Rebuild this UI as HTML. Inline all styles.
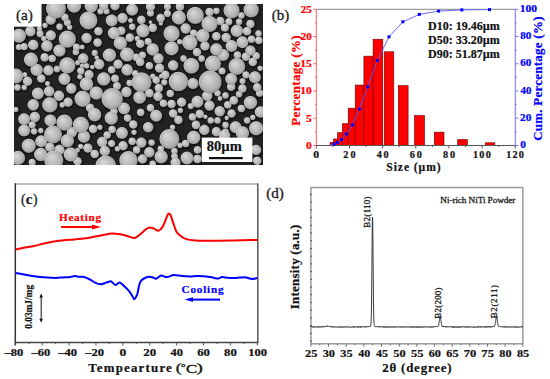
<!DOCTYPE html>
<html><head><meta charset="utf-8"><title>Figure</title>
<style>html,body{margin:0;padding:0;background:#fff;width:550px;height:379px;overflow:hidden}svg{display:block}text{font-family:"Liberation Serif",serif}</style>
</head><body><svg width="550" height="379" viewBox="0 0 550 379"><rect width="550" height="379" fill="#fff"/><defs><radialGradient id="sph" cx="0.5" cy="0.5" r="0.5" fx="0.34" fy="0.3"><stop offset="0" stop-color="#d8d8d8"/><stop offset="0.4" stop-color="#c6c6c6"/><stop offset="0.75" stop-color="#b3b3b3"/><stop offset="0.92" stop-color="#a0a0a0"/><stop offset="1" stop-color="#747474"/></radialGradient><linearGradient id="rim" x1="0" y1="0" x2="1" y2="1"><stop offset="0" stop-color="#efefef" stop-opacity="0.9"/><stop offset="0.5" stop-color="#dcdcdc" stop-opacity="0.25"/><stop offset="1" stop-color="#ffffff" stop-opacity="0"/></linearGradient><clipPath id="semclip"><rect x="14" y="4" width="249" height="161"/></clipPath></defs><g clip-path="url(#semclip)"><rect x="14" y="4" width="249" height="161" fill="#222222"/><circle cx="150.9" cy="22.9" r="3.0" fill="#0e0e0e" opacity="0.7"/><circle cx="205.8" cy="117.4" r="3.4" fill="#0e0e0e" opacity="0.7"/><circle cx="227.1" cy="118.6" r="3.4" fill="#0e0e0e" opacity="0.7"/><circle cx="161.2" cy="24.1" r="3.4" fill="#0e0e0e" opacity="0.7"/><circle cx="82.6" cy="66.5" r="3.5" fill="#0e0e0e" opacity="0.7"/><circle cx="92.7" cy="67.8" r="3.5" fill="#0e0e0e" opacity="0.7"/><circle cx="97.1" cy="58.3" r="3.5" fill="#0e0e0e" opacity="0.7"/><circle cx="220.4" cy="99.1" r="3.6" fill="#0e0e0e" opacity="0.7"/><circle cx="82.6" cy="47.8" r="3.6" fill="#0e0e0e" opacity="0.7"/><circle cx="130.9" cy="21.1" r="3.6" fill="#0e0e0e" opacity="0.7"/><circle cx="161.7" cy="76.9" r="3.6" fill="#0e0e0e" opacity="0.7"/><circle cx="77.8" cy="151.0" r="3.6" fill="#0e0e0e" opacity="0.7"/><circle cx="25.2" cy="75.4" r="3.7" fill="#0e0e0e" opacity="0.7"/><circle cx="47.9" cy="84.2" r="3.7" fill="#0e0e0e" opacity="0.7"/><circle cx="78.1" cy="63.4" r="3.7" fill="#0e0e0e" opacity="0.7"/><circle cx="70.1" cy="27.9" r="3.9" fill="#0e0e0e" opacity="0.7"/><circle cx="80.3" cy="77.4" r="3.9" fill="#0e0e0e" opacity="0.7"/><circle cx="24.6" cy="88.1" r="3.9" fill="#0e0e0e" opacity="0.7"/><circle cx="62.6" cy="105.6" r="3.9" fill="#0e0e0e" opacity="0.7"/><circle cx="16.2" cy="110.2" r="3.9" fill="#0e0e0e" opacity="0.7"/><circle cx="41.2" cy="131.3" r="3.9" fill="#0e0e0e" opacity="0.7"/><circle cx="100.3" cy="127.9" r="3.9" fill="#0e0e0e" opacity="0.7"/><circle cx="134.4" cy="132.9" r="3.9" fill="#0e0e0e" opacity="0.7"/><circle cx="117.8" cy="149.5" r="3.9" fill="#0e0e0e" opacity="0.7"/><circle cx="172.9" cy="127.9" r="3.9" fill="#0e0e0e" opacity="0.7"/><circle cx="180.8" cy="111.0" r="3.9" fill="#0e0e0e" opacity="0.7"/><circle cx="253.2" cy="118.0" r="3.9" fill="#0e0e0e" opacity="0.7"/><circle cx="180.4" cy="146.0" r="3.9" fill="#0e0e0e" opacity="0.7"/><circle cx="45.4" cy="26.0" r="3.9" fill="#0e0e0e" opacity="0.7"/><circle cx="39.9" cy="29.6" r="3.9" fill="#0e0e0e" opacity="0.7"/><circle cx="44.2" cy="39.3" r="3.9" fill="#0e0e0e" opacity="0.7"/><circle cx="137.6" cy="39.3" r="3.9" fill="#0e0e0e" opacity="0.7"/><circle cx="180.1" cy="42.4" r="3.9" fill="#0e0e0e" opacity="0.7"/><circle cx="260.5" cy="69.0" r="3.9" fill="#0e0e0e" opacity="0.7"/><circle cx="153.2" cy="76.9" r="3.9" fill="#0e0e0e" opacity="0.7"/><circle cx="81.1" cy="147.2" r="3.9" fill="#0e0e0e" opacity="0.7"/><circle cx="87.0" cy="66.5" r="4.0" fill="#0e0e0e" opacity="0.7"/><circle cx="95.1" cy="53.6" r="4.2" fill="#0e0e0e" opacity="0.7"/><circle cx="191.1" cy="106.8" r="4.2" fill="#0e0e0e" opacity="0.7"/><circle cx="19.3" cy="47.8" r="4.2" fill="#0e0e0e" opacity="0.7"/><circle cx="100.8" cy="12.0" r="4.2" fill="#0e0e0e" opacity="0.7"/><circle cx="106.9" cy="12.0" r="4.2" fill="#0e0e0e" opacity="0.7"/><circle cx="242.9" cy="81.8" r="4.2" fill="#0e0e0e" opacity="0.7"/><circle cx="164.7" cy="83.0" r="4.2" fill="#0e0e0e" opacity="0.7"/><circle cx="59.9" cy="27.4" r="4.5" fill="#0e0e0e" opacity="0.7"/><circle cx="132.6" cy="27.4" r="4.5" fill="#0e0e0e" opacity="0.7"/><circle cx="216.8" cy="11.5" r="4.5" fill="#0e0e0e" opacity="0.7"/><circle cx="241.8" cy="16.1" r="4.5" fill="#0e0e0e" opacity="0.7"/><circle cx="239.5" cy="22.4" r="4.5" fill="#0e0e0e" opacity="0.7"/><circle cx="258.9" cy="34.2" r="4.5" fill="#0e0e0e" opacity="0.7"/><circle cx="183.9" cy="59.2" r="4.5" fill="#0e0e0e" opacity="0.7"/><circle cx="202.0" cy="59.2" r="4.5" fill="#0e0e0e" opacity="0.7"/><circle cx="17.8" cy="88.1" r="4.5" fill="#0e0e0e" opacity="0.7"/><circle cx="34.4" cy="132.0" r="4.5" fill="#0e0e0e" opacity="0.7"/><circle cx="217.9" cy="93.8" r="4.5" fill="#0e0e0e" opacity="0.7"/><circle cx="225.9" cy="96.1" r="4.5" fill="#0e0e0e" opacity="0.7"/><circle cx="239.5" cy="94.9" r="4.5" fill="#0e0e0e" opacity="0.7"/><circle cx="211.1" cy="121.1" r="4.5" fill="#0e0e0e" opacity="0.7"/><circle cx="217.9" cy="121.1" r="4.5" fill="#0e0e0e" opacity="0.7"/><circle cx="247.5" cy="121.1" r="4.5" fill="#0e0e0e" opacity="0.7"/><circle cx="225.9" cy="125.6" r="4.5" fill="#0e0e0e" opacity="0.7"/><circle cx="225.9" cy="132.4" r="4.5" fill="#0e0e0e" opacity="0.7"/><circle cx="152.0" cy="143.3" r="4.5" fill="#0e0e0e" opacity="0.7"/><circle cx="161.1" cy="149.5" r="4.5" fill="#0e0e0e" opacity="0.7"/><circle cx="174.8" cy="151.7" r="4.5" fill="#0e0e0e" opacity="0.7"/><circle cx="130.0" cy="83.6" r="4.5" fill="#0e0e0e" opacity="0.7"/><circle cx="135.7" cy="74.1" r="4.5" fill="#0e0e0e" opacity="0.7"/><circle cx="57.4" cy="69.7" r="4.5" fill="#0e0e0e" opacity="0.7"/><circle cx="76.2" cy="52.6" r="4.5" fill="#0e0e0e" opacity="0.7"/><circle cx="174.9" cy="156.9" r="4.6" fill="#0e0e0e" opacity="0.7"/><circle cx="153.1" cy="164.5" r="4.6" fill="#0e0e0e" opacity="0.7"/><circle cx="67.8" cy="23.3" r="4.7" fill="#0e0e0e" opacity="0.7"/><circle cx="24.6" cy="47.4" r="4.7" fill="#0e0e0e" opacity="0.7"/><circle cx="76.9" cy="47.9" r="4.7" fill="#0e0e0e" opacity="0.7"/><circle cx="167.9" cy="7.4" r="4.7" fill="#0e0e0e" opacity="0.7"/><circle cx="150.9" cy="13.8" r="4.7" fill="#0e0e0e" opacity="0.7"/><circle cx="167.9" cy="14.2" r="4.7" fill="#0e0e0e" opacity="0.7"/><circle cx="229.3" cy="22.4" r="4.7" fill="#0e0e0e" opacity="0.7"/><circle cx="194.1" cy="33.8" r="4.7" fill="#0e0e0e" opacity="0.7"/><circle cx="148.6" cy="42.2" r="4.7" fill="#0e0e0e" opacity="0.7"/><circle cx="142.9" cy="55.8" r="4.7" fill="#0e0e0e" opacity="0.7"/><circle cx="222.5" cy="71.7" r="4.7" fill="#0e0e0e" opacity="0.7"/><circle cx="246.4" cy="75.6" r="4.7" fill="#0e0e0e" opacity="0.7"/><circle cx="32.6" cy="125.6" r="4.7" fill="#0e0e0e" opacity="0.7"/><circle cx="112.1" cy="144.2" r="4.7" fill="#0e0e0e" opacity="0.7"/><circle cx="32.6" cy="163.1" r="4.7" fill="#0e0e0e" opacity="0.7"/><circle cx="40.5" cy="34.5" r="4.7" fill="#0e0e0e" opacity="0.7"/><circle cx="81.3" cy="71.6" r="4.8" fill="#0e0e0e" opacity="0.7"/><circle cx="52.6" cy="59.2" r="4.9" fill="#0e0e0e" opacity="0.7"/><circle cx="136.7" cy="58.1" r="4.9" fill="#0e0e0e" opacity="0.7"/><circle cx="112.1" cy="70.6" r="4.9" fill="#0e0e0e" opacity="0.7"/><circle cx="252.0" cy="39.9" r="4.9" fill="#0e0e0e" opacity="0.7"/><circle cx="259.3" cy="41.1" r="4.9" fill="#0e0e0e" opacity="0.7"/><circle cx="237.9" cy="55.8" r="4.9" fill="#0e0e0e" opacity="0.7"/><circle cx="256.6" cy="56.5" r="4.9" fill="#0e0e0e" opacity="0.7"/><circle cx="149.8" cy="66.5" r="4.9" fill="#0e0e0e" opacity="0.7"/><circle cx="156.6" cy="80.8" r="4.9" fill="#0e0e0e" opacity="0.7"/><circle cx="114.4" cy="112.0" r="4.9" fill="#0e0e0e" opacity="0.7"/><circle cx="128.0" cy="118.8" r="4.9" fill="#0e0e0e" opacity="0.7"/><circle cx="107.6" cy="135.8" r="4.9" fill="#0e0e0e" opacity="0.7"/><circle cx="112.6" cy="130.2" r="4.9" fill="#0e0e0e" opacity="0.7"/><circle cx="132.6" cy="142.0" r="4.9" fill="#0e0e0e" opacity="0.7"/><circle cx="137.1" cy="150.6" r="4.9" fill="#0e0e0e" opacity="0.7"/><circle cx="170.7" cy="94.2" r="4.9" fill="#0e0e0e" opacity="0.7"/><circle cx="163.9" cy="104.0" r="4.9" fill="#0e0e0e" opacity="0.7"/><circle cx="228.2" cy="105.6" r="4.9" fill="#0e0e0e" opacity="0.7"/><circle cx="260.0" cy="93.8" r="4.9" fill="#0e0e0e" opacity="0.7"/><circle cx="241.8" cy="109.2" r="4.9" fill="#0e0e0e" opacity="0.7"/><circle cx="141.1" cy="113.1" r="4.9" fill="#0e0e0e" opacity="0.7"/><circle cx="150.9" cy="108.6" r="4.9" fill="#0e0e0e" opacity="0.7"/><circle cx="192.9" cy="117.7" r="4.9" fill="#0e0e0e" opacity="0.7"/><circle cx="186.1" cy="144.2" r="4.9" fill="#0e0e0e" opacity="0.7"/><circle cx="197.9" cy="150.6" r="4.9" fill="#0e0e0e" opacity="0.7"/><circle cx="65.4" cy="18.1" r="4.9" fill="#0e0e0e" opacity="0.7"/><circle cx="117.4" cy="86.7" r="5.1" fill="#0e0e0e" opacity="0.7"/><circle cx="115.5" cy="79.2" r="5.1" fill="#0e0e0e" opacity="0.7"/><circle cx="225.3" cy="28.4" r="5.2" fill="#0e0e0e" opacity="0.7"/><circle cx="98.9" cy="32.0" r="5.4" fill="#0e0e0e" opacity="0.7"/><circle cx="98.0" cy="43.3" r="5.4" fill="#0e0e0e" opacity="0.7"/><circle cx="121.7" cy="31.5" r="5.4" fill="#0e0e0e" opacity="0.7"/><circle cx="130.3" cy="38.3" r="5.4" fill="#0e0e0e" opacity="0.7"/><circle cx="45.1" cy="58.1" r="5.4" fill="#0e0e0e" opacity="0.7"/><circle cx="41.7" cy="79.2" r="5.4" fill="#0e0e0e" opacity="0.7"/><circle cx="180.4" cy="7.4" r="5.4" fill="#0e0e0e" opacity="0.7"/><circle cx="210.0" cy="12.7" r="5.4" fill="#0e0e0e" opacity="0.7"/><circle cx="161.1" cy="18.8" r="5.4" fill="#0e0e0e" opacity="0.7"/><circle cx="141.8" cy="20.6" r="5.4" fill="#0e0e0e" opacity="0.7"/><circle cx="220.7" cy="21.7" r="5.4" fill="#0e0e0e" opacity="0.7"/><circle cx="250.9" cy="24.7" r="5.4" fill="#0e0e0e" opacity="0.7"/><circle cx="153.2" cy="28.6" r="5.4" fill="#0e0e0e" opacity="0.7"/><circle cx="216.8" cy="37.0" r="5.4" fill="#0e0e0e" opacity="0.7"/><circle cx="247.5" cy="32.0" r="5.4" fill="#0e0e0e" opacity="0.7"/><circle cx="140.7" cy="44.5" r="5.4" fill="#0e0e0e" opacity="0.7"/><circle cx="197.5" cy="52.9" r="5.4" fill="#0e0e0e" opacity="0.7"/><circle cx="246.4" cy="57.4" r="5.4" fill="#0e0e0e" opacity="0.7"/><circle cx="253.2" cy="62.7" r="5.4" fill="#0e0e0e" opacity="0.7"/><circle cx="140.7" cy="62.7" r="5.4" fill="#0e0e0e" opacity="0.7"/><circle cx="165.7" cy="75.6" r="5.4" fill="#0e0e0e" opacity="0.7"/><circle cx="90.5" cy="108.6" r="5.4" fill="#0e0e0e" opacity="0.7"/><circle cx="93.5" cy="129.7" r="5.4" fill="#0e0e0e" opacity="0.7"/><circle cx="133.7" cy="125.2" r="5.4" fill="#0e0e0e" opacity="0.7"/><circle cx="95.1" cy="154.7" r="5.4" fill="#0e0e0e" opacity="0.7"/><circle cx="78.0" cy="162.0" r="5.4" fill="#0e0e0e" opacity="0.7"/><circle cx="159.3" cy="88.8" r="5.4" fill="#0e0e0e" opacity="0.7"/><circle cx="231.6" cy="87.4" r="5.4" fill="#0e0e0e" opacity="0.7"/><circle cx="242.9" cy="89.2" r="5.4" fill="#0e0e0e" opacity="0.7"/><circle cx="257.7" cy="88.1" r="5.4" fill="#0e0e0e" opacity="0.7"/><circle cx="149.8" cy="93.8" r="5.4" fill="#0e0e0e" opacity="0.7"/><circle cx="172.0" cy="104.7" r="5.4" fill="#0e0e0e" opacity="0.7"/><circle cx="234.3" cy="101.1" r="5.4" fill="#0e0e0e" opacity="0.7"/><circle cx="173.6" cy="114.2" r="5.4" fill="#0e0e0e" opacity="0.7"/><circle cx="178.9" cy="120.6" r="5.4" fill="#0e0e0e" opacity="0.7"/><circle cx="200.2" cy="114.7" r="5.4" fill="#0e0e0e" opacity="0.7"/><circle cx="232.0" cy="114.2" r="5.4" fill="#0e0e0e" opacity="0.7"/><circle cx="196.4" cy="125.6" r="5.4" fill="#0e0e0e" opacity="0.7"/><circle cx="197.9" cy="159.7" r="5.4" fill="#0e0e0e" opacity="0.7"/><circle cx="257.7" cy="161.5" r="5.4" fill="#0e0e0e" opacity="0.7"/><circle cx="89.5" cy="75.4" r="5.7" fill="#0e0e0e" opacity="0.7"/><circle cx="104.2" cy="6.5" r="5.8" fill="#0e0e0e" opacity="0.7"/><circle cx="115.4" cy="6.5" r="5.8" fill="#0e0e0e" opacity="0.7"/><circle cx="118.5" cy="64.9" r="5.8" fill="#0e0e0e" opacity="0.7"/><circle cx="28.0" cy="82.0" r="5.8" fill="#0e0e0e" opacity="0.7"/><circle cx="150.9" cy="7.4" r="5.8" fill="#0e0e0e" opacity="0.7"/><circle cx="226.6" cy="38.3" r="5.8" fill="#0e0e0e" opacity="0.7"/><circle cx="205.4" cy="46.7" r="5.8" fill="#0e0e0e" opacity="0.7"/><circle cx="160.0" cy="68.8" r="5.8" fill="#0e0e0e" opacity="0.7"/><circle cx="68.5" cy="102.9" r="5.8" fill="#0e0e0e" opacity="0.7"/><circle cx="123.5" cy="146.5" r="5.8" fill="#0e0e0e" opacity="0.7"/><circle cx="50.3" cy="147.9" r="5.8" fill="#0e0e0e" opacity="0.7"/><circle cx="88.3" cy="148.8" r="5.8" fill="#0e0e0e" opacity="0.7"/><circle cx="158.4" cy="97.2" r="5.8" fill="#0e0e0e" opacity="0.7"/><circle cx="182.0" cy="102.9" r="5.8" fill="#0e0e0e" opacity="0.7"/><circle cx="216.8" cy="132.4" r="5.8" fill="#0e0e0e" opacity="0.7"/><circle cx="142.9" cy="159.7" r="5.8" fill="#0e0e0e" opacity="0.7"/><circle cx="176.0" cy="163.2" r="6.2" fill="#0e0e0e" opacity="0.7"/><circle cx="123.0" cy="18.8" r="6.3" fill="#0e0e0e" opacity="0.7"/><circle cx="51.2" cy="20.2" r="6.3" fill="#0e0e0e" opacity="0.7"/><circle cx="30.8" cy="32.0" r="6.3" fill="#0e0e0e" opacity="0.7"/><circle cx="51.2" cy="36.1" r="6.3" fill="#0e0e0e" opacity="0.7"/><circle cx="87.1" cy="38.8" r="6.3" fill="#0e0e0e" opacity="0.7"/><circle cx="33.7" cy="45.6" r="6.3" fill="#0e0e0e" opacity="0.7"/><circle cx="83.7" cy="59.2" r="6.3" fill="#0e0e0e" opacity="0.7"/><circle cx="99.6" cy="64.9" r="6.3" fill="#0e0e0e" opacity="0.7"/><circle cx="48.9" cy="71.1" r="6.3" fill="#0e0e0e" opacity="0.7"/><circle cx="186.1" cy="29.2" r="6.3" fill="#0e0e0e" opacity="0.7"/><circle cx="250.9" cy="51.3" r="6.3" fill="#0e0e0e" opacity="0.7"/><circle cx="158.9" cy="59.2" r="6.3" fill="#0e0e0e" opacity="0.7"/><circle cx="173.6" cy="66.1" r="6.3" fill="#0e0e0e" opacity="0.7"/><circle cx="49.6" cy="92.0" r="6.3" fill="#0e0e0e" opacity="0.7"/><circle cx="59.4" cy="96.5" r="6.3" fill="#0e0e0e" opacity="0.7"/><circle cx="71.7" cy="89.2" r="6.3" fill="#0e0e0e" opacity="0.7"/><circle cx="126.9" cy="92.7" r="6.3" fill="#0e0e0e" opacity="0.7"/><circle cx="35.3" cy="117.7" r="6.3" fill="#0e0e0e" opacity="0.7"/><circle cx="72.4" cy="132.9" r="6.3" fill="#0e0e0e" opacity="0.7"/><circle cx="102.6" cy="142.7" r="6.3" fill="#0e0e0e" opacity="0.7"/><circle cx="59.9" cy="150.6" r="6.3" fill="#0e0e0e" opacity="0.7"/><circle cx="105.3" cy="151.7" r="6.3" fill="#0e0e0e" opacity="0.7"/><circle cx="207.7" cy="96.5" r="6.3" fill="#0e0e0e" opacity="0.7"/><circle cx="210.0" cy="106.3" r="6.3" fill="#0e0e0e" opacity="0.7"/><circle cx="220.2" cy="112.0" r="6.3" fill="#0e0e0e" opacity="0.7"/><circle cx="148.6" cy="127.9" r="6.3" fill="#0e0e0e" opacity="0.7"/><circle cx="204.8" cy="130.6" r="6.3" fill="#0e0e0e" opacity="0.7"/><circle cx="141.8" cy="143.3" r="6.3" fill="#0e0e0e" opacity="0.7"/><circle cx="149.8" cy="152.9" r="6.3" fill="#0e0e0e" opacity="0.7"/><circle cx="256.6" cy="150.6" r="6.3" fill="#0e0e0e" opacity="0.7"/><circle cx="193.4" cy="84.2" r="6.7" fill="#0e0e0e" opacity="0.7"/><circle cx="47.4" cy="46.7" r="6.9" fill="#0e0e0e" opacity="0.7"/><circle cx="127.6" cy="70.6" r="6.9" fill="#0e0e0e" opacity="0.7"/><circle cx="33.7" cy="105.6" r="6.9" fill="#0e0e0e" opacity="0.7"/><circle cx="260.9" cy="112.7" r="6.9" fill="#0e0e0e" opacity="0.7"/><circle cx="224.9" cy="136.2" r="6.9" fill="#0e0e0e" opacity="0.7"/><circle cx="132.6" cy="10.4" r="7.1" fill="#0e0e0e" opacity="0.7"/><circle cx="112.1" cy="21.1" r="7.1" fill="#0e0e0e" opacity="0.7"/><circle cx="64.9" cy="79.7" r="7.1" fill="#0e0e0e" opacity="0.7"/><circle cx="232.0" cy="46.7" r="7.1" fill="#0e0e0e" opacity="0.7"/><circle cx="242.9" cy="42.9" r="7.1" fill="#0e0e0e" opacity="0.7"/><circle cx="223.6" cy="55.8" r="7.1" fill="#0e0e0e" opacity="0.7"/><circle cx="231.6" cy="79.7" r="7.1" fill="#0e0e0e" opacity="0.7"/><circle cx="255.4" cy="77.9" r="7.1" fill="#0e0e0e" opacity="0.7"/><circle cx="38.3" cy="94.2" r="7.1" fill="#0e0e0e" opacity="0.7"/><circle cx="124.6" cy="109.2" r="7.1" fill="#0e0e0e" opacity="0.7"/><circle cx="24.6" cy="119.9" r="7.1" fill="#0e0e0e" opacity="0.7"/><circle cx="50.8" cy="121.1" r="7.1" fill="#0e0e0e" opacity="0.7"/><circle cx="24.6" cy="131.3" r="7.1" fill="#0e0e0e" opacity="0.7"/><circle cx="122.4" cy="133.6" r="7.1" fill="#0e0e0e" opacity="0.7"/><circle cx="41.7" cy="142.0" r="7.1" fill="#0e0e0e" opacity="0.7"/><circle cx="197.9" cy="102.4" r="7.1" fill="#0e0e0e" opacity="0.7"/><circle cx="156.6" cy="116.5" r="7.1" fill="#0e0e0e" opacity="0.7"/><circle cx="236.1" cy="127.9" r="7.1" fill="#0e0e0e" opacity="0.7"/><circle cx="114.4" cy="33.8" r="7.3" fill="#0e0e0e" opacity="0.7"/><circle cx="59.9" cy="51.3" r="7.3" fill="#0e0e0e" opacity="0.7"/><circle cx="37.1" cy="70.6" r="7.3" fill="#0e0e0e" opacity="0.7"/><circle cx="237.3" cy="31.5" r="7.3" fill="#0e0e0e" opacity="0.7"/><circle cx="153.2" cy="50.2" r="7.3" fill="#0e0e0e" opacity="0.7"/><circle cx="216.8" cy="50.2" r="7.3" fill="#0e0e0e" opacity="0.7"/><circle cx="84.4" cy="137.4" r="7.3" fill="#0e0e0e" opacity="0.7"/><circle cx="140.1" cy="98.1" r="7.5" fill="#0e0e0e" opacity="0.7"/><circle cx="187.5" cy="158.7" r="7.6" fill="#0e0e0e" opacity="0.7"/><circle cx="91.7" cy="6.5" r="7.8" fill="#0e0e0e" opacity="0.7"/><circle cx="120.8" cy="43.8" r="7.8" fill="#0e0e0e" opacity="0.7"/><circle cx="109.9" cy="55.8" r="7.8" fill="#0e0e0e" opacity="0.7"/><circle cx="104.2" cy="79.7" r="7.8" fill="#0e0e0e" opacity="0.7"/><circle cx="143.4" cy="31.5" r="7.8" fill="#0e0e0e" opacity="0.7"/><circle cx="203.2" cy="36.5" r="7.8" fill="#0e0e0e" opacity="0.7"/><circle cx="96.7" cy="93.8" r="7.8" fill="#0e0e0e" opacity="0.7"/><circle cx="95.1" cy="115.4" r="7.8" fill="#0e0e0e" opacity="0.7"/><circle cx="111.7" cy="118.8" r="7.8" fill="#0e0e0e" opacity="0.7"/><circle cx="67.8" cy="141.5" r="7.8" fill="#0e0e0e" opacity="0.7"/><circle cx="41.2" cy="155.2" r="7.8" fill="#0e0e0e" opacity="0.7"/><circle cx="250.9" cy="103.3" r="7.8" fill="#0e0e0e" opacity="0.7"/><circle cx="242.9" cy="133.6" r="7.8" fill="#0e0e0e" opacity="0.7"/><circle cx="194.1" cy="138.1" r="7.8" fill="#0e0e0e" opacity="0.7"/><circle cx="161.6" cy="157.4" r="7.8" fill="#0e0e0e" opacity="0.7"/><circle cx="86.9" cy="84.7" r="7.9" fill="#0e0e0e" opacity="0.7"/><circle cx="74.6" cy="6.5" r="8.2" fill="#0e0e0e" opacity="0.7"/><circle cx="19.4" cy="36.5" r="8.2" fill="#0e0e0e" opacity="0.7"/><circle cx="127.6" cy="55.2" r="8.2" fill="#0e0e0e" opacity="0.7"/><circle cx="31.4" cy="60.4" r="8.2" fill="#0e0e0e" opacity="0.7"/><circle cx="179.3" cy="18.3" r="8.2" fill="#0e0e0e" opacity="0.7"/><circle cx="172.0" cy="49.0" r="8.2" fill="#0e0e0e" opacity="0.7"/><circle cx="29.2" cy="146.5" r="8.2" fill="#0e0e0e" opacity="0.7"/><circle cx="71.2" cy="155.2" r="8.2" fill="#0e0e0e" opacity="0.7"/><circle cx="18.5" cy="158.6" r="8.2" fill="#0e0e0e" opacity="0.7"/><circle cx="256.6" cy="129.0" r="8.2" fill="#0e0e0e" opacity="0.7"/><circle cx="16.4" cy="76.7" r="8.5" fill="#0e0e0e" opacity="0.7"/><circle cx="251.6" cy="10.4" r="8.8" fill="#0e0e0e" opacity="0.7"/><circle cx="190.2" cy="43.3" r="8.8" fill="#0e0e0e" opacity="0.7"/><circle cx="50.3" cy="105.6" r="8.8" fill="#0e0e0e" opacity="0.7"/><circle cx="191.8" cy="66.5" r="9.0" fill="#0e0e0e" opacity="0.7"/><circle cx="67.8" cy="66.1" r="9.2" fill="#0e0e0e" opacity="0.7"/><circle cx="232.0" cy="11.1" r="9.2" fill="#0e0e0e" opacity="0.7"/><circle cx="210.0" cy="24.7" r="9.2" fill="#0e0e0e" opacity="0.7"/><circle cx="172.0" cy="34.2" r="9.2" fill="#0e0e0e" opacity="0.7"/><circle cx="213.4" cy="64.2" r="9.2" fill="#0e0e0e" opacity="0.7"/><circle cx="83.0" cy="99.5" r="9.2" fill="#0e0e0e" opacity="0.7"/><circle cx="64.9" cy="123.3" r="9.2" fill="#0e0e0e" opacity="0.7"/><circle cx="81.4" cy="125.6" r="9.2" fill="#0e0e0e" opacity="0.7"/><circle cx="237.3" cy="67.2" r="9.5" fill="#0e0e0e" opacity="0.7"/><circle cx="67.8" cy="39.9" r="9.7" fill="#0e0e0e" opacity="0.7"/><circle cx="195.7" cy="16.1" r="9.7" fill="#0e0e0e" opacity="0.7"/><circle cx="88.9" cy="21.1" r="10.1" fill="#0e0e0e" opacity="0.7"/><circle cx="53.5" cy="135.2" r="10.1" fill="#0e0e0e" opacity="0.7"/><circle cx="128.9" cy="160.9" r="10.3" fill="#0e0e0e" opacity="0.7"/><circle cx="54.2" cy="160.8" r="10.7" fill="#0e0e0e" opacity="0.7"/><circle cx="178.9" cy="82.2" r="10.9" fill="#0e0e0e" opacity="0.7"/><circle cx="56.4" cy="9.2" r="11.1" fill="#0e0e0e" opacity="0.7"/><circle cx="169.8" cy="139.7" r="11.1" fill="#0e0e0e" opacity="0.7"/><circle cx="142.0" cy="83.0" r="11.1" fill="#0e0e0e" opacity="0.7"/><circle cx="106.2" cy="166.7" r="11.6" fill="#0e0e0e" opacity="0.7"/><circle cx="112.6" cy="99.5" r="11.8" fill="#0e0e0e" opacity="0.7"/><circle cx="210.6" cy="82.6" r="12.5" fill="#0e0e0e" opacity="0.7"/><circle cx="150.5" cy="22.2" r="1.9" fill="url(#sph)"/><circle cx="205.4" cy="116.7" r="2.3" fill="url(#sph)"/><circle cx="226.7" cy="117.9" r="2.3" fill="url(#sph)"/><circle cx="160.8" cy="23.4" r="2.3" fill="url(#sph)"/><circle cx="82.2" cy="65.8" r="2.4" fill="url(#sph)"/><circle cx="92.3" cy="67.1" r="2.4" fill="url(#sph)"/><circle cx="96.7" cy="57.6" r="2.4" fill="url(#sph)"/><circle cx="220.0" cy="98.4" r="2.5" fill="url(#sph)"/><circle cx="82.2" cy="47.1" r="2.5" fill="url(#sph)"/><circle cx="130.5" cy="20.4" r="2.5" fill="url(#sph)"/><circle cx="161.3" cy="76.2" r="2.5" fill="url(#sph)"/><circle cx="77.4" cy="150.3" r="2.5" fill="url(#sph)"/><circle cx="24.8" cy="74.7" r="2.6" fill="url(#sph)"/><circle cx="47.5" cy="83.5" r="2.6" fill="url(#sph)"/><circle cx="77.7" cy="62.7" r="2.6" fill="url(#sph)"/><circle cx="69.7" cy="27.2" r="2.8" fill="url(#sph)"/><circle cx="79.9" cy="76.7" r="2.8" fill="url(#sph)"/><circle cx="24.2" cy="87.4" r="2.8" fill="url(#sph)"/><circle cx="62.2" cy="104.9" r="2.8" fill="url(#sph)"/><circle cx="15.8" cy="109.5" r="2.8" fill="url(#sph)"/><circle cx="40.8" cy="130.6" r="2.8" fill="url(#sph)"/><circle cx="99.9" cy="127.2" r="2.8" fill="url(#sph)"/><circle cx="134.0" cy="132.2" r="2.8" fill="url(#sph)"/><circle cx="117.4" cy="148.8" r="2.8" fill="url(#sph)"/><circle cx="172.5" cy="127.2" r="2.8" fill="url(#sph)"/><circle cx="180.4" cy="110.3" r="2.8" fill="url(#sph)"/><circle cx="252.8" cy="117.3" r="2.8" fill="url(#sph)"/><circle cx="180.0" cy="145.3" r="2.8" fill="url(#sph)"/><circle cx="45.0" cy="25.3" r="2.8" fill="url(#sph)"/><circle cx="39.5" cy="28.9" r="2.8" fill="url(#sph)"/><circle cx="43.8" cy="38.6" r="2.8" fill="url(#sph)"/><circle cx="137.2" cy="38.6" r="2.8" fill="url(#sph)"/><circle cx="179.7" cy="41.7" r="2.8" fill="url(#sph)"/><circle cx="260.1" cy="68.3" r="2.8" fill="url(#sph)"/><circle cx="152.8" cy="76.2" r="2.8" fill="url(#sph)"/><circle cx="80.7" cy="146.5" r="2.8" fill="url(#sph)"/><circle cx="86.6" cy="65.8" r="2.9" fill="url(#sph)"/><circle cx="94.7" cy="52.9" r="3.2" fill="url(#sph)"/><circle cx="190.7" cy="106.1" r="3.2" fill="url(#sph)"/><circle cx="18.9" cy="47.1" r="3.2" fill="url(#sph)"/><circle cx="100.4" cy="11.3" r="3.2" fill="url(#sph)"/><circle cx="106.5" cy="11.3" r="3.2" fill="url(#sph)"/><circle cx="242.5" cy="81.1" r="3.2" fill="url(#sph)"/><circle cx="164.3" cy="82.3" r="3.2" fill="url(#sph)"/><circle cx="59.5" cy="26.7" r="3.4" fill="url(#sph)"/><circle cx="132.2" cy="26.7" r="3.4" fill="url(#sph)"/><circle cx="216.4" cy="10.8" r="3.4" fill="url(#sph)"/><circle cx="241.4" cy="15.4" r="3.4" fill="url(#sph)"/><circle cx="239.1" cy="21.7" r="3.4" fill="url(#sph)"/><circle cx="258.5" cy="33.5" r="3.4" fill="url(#sph)"/><circle cx="183.5" cy="58.5" r="3.4" fill="url(#sph)"/><circle cx="201.6" cy="58.5" r="3.4" fill="url(#sph)"/><circle cx="17.4" cy="87.4" r="3.4" fill="url(#sph)"/><circle cx="34.0" cy="131.3" r="3.4" fill="url(#sph)"/><circle cx="217.5" cy="93.1" r="3.4" fill="url(#sph)"/><circle cx="225.5" cy="95.4" r="3.4" fill="url(#sph)"/><circle cx="239.1" cy="94.2" r="3.4" fill="url(#sph)"/><circle cx="210.7" cy="120.4" r="3.4" fill="url(#sph)"/><circle cx="217.5" cy="120.4" r="3.4" fill="url(#sph)"/><circle cx="247.1" cy="120.4" r="3.4" fill="url(#sph)"/><circle cx="225.5" cy="124.9" r="3.4" fill="url(#sph)"/><circle cx="225.5" cy="131.7" r="3.4" fill="url(#sph)"/><circle cx="151.6" cy="142.6" r="3.4" fill="url(#sph)"/><circle cx="160.7" cy="148.8" r="3.4" fill="url(#sph)"/><circle cx="174.4" cy="151.0" r="3.4" fill="url(#sph)"/><circle cx="129.6" cy="82.9" r="3.4" fill="url(#sph)"/><circle cx="135.3" cy="73.4" r="3.4" fill="url(#sph)"/><circle cx="57.0" cy="69.0" r="3.4" fill="url(#sph)"/><circle cx="75.8" cy="51.9" r="3.4" fill="url(#sph)"/><circle cx="174.5" cy="156.2" r="3.5" fill="url(#sph)"/><circle cx="152.7" cy="163.8" r="3.5" fill="url(#sph)"/><circle cx="67.4" cy="22.6" r="3.6" fill="url(#sph)"/><circle cx="67.4" cy="22.6" r="3.1" fill="none" stroke="url(#rim)" stroke-width="0.9"/><circle cx="24.2" cy="46.7" r="3.6" fill="url(#sph)"/><circle cx="24.2" cy="46.7" r="3.1" fill="none" stroke="url(#rim)" stroke-width="0.9"/><circle cx="76.5" cy="47.2" r="3.6" fill="url(#sph)"/><circle cx="76.5" cy="47.2" r="3.1" fill="none" stroke="url(#rim)" stroke-width="0.9"/><circle cx="167.5" cy="6.7" r="3.6" fill="url(#sph)"/><circle cx="167.5" cy="6.7" r="3.1" fill="none" stroke="url(#rim)" stroke-width="0.9"/><circle cx="150.5" cy="13.1" r="3.6" fill="url(#sph)"/><circle cx="150.5" cy="13.1" r="3.1" fill="none" stroke="url(#rim)" stroke-width="0.9"/><circle cx="167.5" cy="13.5" r="3.6" fill="url(#sph)"/><circle cx="167.5" cy="13.5" r="3.1" fill="none" stroke="url(#rim)" stroke-width="0.9"/><circle cx="228.9" cy="21.7" r="3.6" fill="url(#sph)"/><circle cx="228.9" cy="21.7" r="3.1" fill="none" stroke="url(#rim)" stroke-width="0.9"/><circle cx="193.7" cy="33.1" r="3.6" fill="url(#sph)"/><circle cx="193.7" cy="33.1" r="3.1" fill="none" stroke="url(#rim)" stroke-width="0.9"/><circle cx="148.2" cy="41.5" r="3.6" fill="url(#sph)"/><circle cx="148.2" cy="41.5" r="3.1" fill="none" stroke="url(#rim)" stroke-width="0.9"/><circle cx="142.5" cy="55.1" r="3.6" fill="url(#sph)"/><circle cx="142.5" cy="55.1" r="3.1" fill="none" stroke="url(#rim)" stroke-width="0.9"/><circle cx="222.1" cy="71.0" r="3.6" fill="url(#sph)"/><circle cx="222.1" cy="71.0" r="3.1" fill="none" stroke="url(#rim)" stroke-width="0.9"/><circle cx="246.0" cy="74.9" r="3.6" fill="url(#sph)"/><circle cx="246.0" cy="74.9" r="3.1" fill="none" stroke="url(#rim)" stroke-width="0.9"/><circle cx="32.2" cy="124.9" r="3.6" fill="url(#sph)"/><circle cx="32.2" cy="124.9" r="3.1" fill="none" stroke="url(#rim)" stroke-width="0.9"/><circle cx="111.7" cy="143.5" r="3.6" fill="url(#sph)"/><circle cx="111.7" cy="143.5" r="3.1" fill="none" stroke="url(#rim)" stroke-width="0.9"/><circle cx="32.2" cy="162.4" r="3.6" fill="url(#sph)"/><circle cx="32.2" cy="162.4" r="3.1" fill="none" stroke="url(#rim)" stroke-width="0.9"/><circle cx="40.1" cy="33.8" r="3.6" fill="url(#sph)"/><circle cx="40.1" cy="33.8" r="3.1" fill="none" stroke="url(#rim)" stroke-width="0.9"/><circle cx="80.9" cy="70.9" r="3.7" fill="url(#sph)"/><circle cx="80.9" cy="70.9" r="3.2" fill="none" stroke="url(#rim)" stroke-width="0.9"/><circle cx="52.2" cy="58.5" r="3.8" fill="url(#sph)"/><circle cx="52.2" cy="58.5" r="3.3" fill="none" stroke="url(#rim)" stroke-width="0.9"/><circle cx="136.3" cy="57.4" r="3.8" fill="url(#sph)"/><circle cx="136.3" cy="57.4" r="3.3" fill="none" stroke="url(#rim)" stroke-width="0.9"/><circle cx="111.7" cy="69.9" r="3.8" fill="url(#sph)"/><circle cx="111.7" cy="69.9" r="3.3" fill="none" stroke="url(#rim)" stroke-width="0.9"/><circle cx="251.6" cy="39.2" r="3.8" fill="url(#sph)"/><circle cx="251.6" cy="39.2" r="3.3" fill="none" stroke="url(#rim)" stroke-width="0.9"/><circle cx="258.9" cy="40.4" r="3.8" fill="url(#sph)"/><circle cx="258.9" cy="40.4" r="3.3" fill="none" stroke="url(#rim)" stroke-width="0.9"/><circle cx="237.5" cy="55.1" r="3.8" fill="url(#sph)"/><circle cx="237.5" cy="55.1" r="3.3" fill="none" stroke="url(#rim)" stroke-width="0.9"/><circle cx="256.2" cy="55.8" r="3.8" fill="url(#sph)"/><circle cx="256.2" cy="55.8" r="3.3" fill="none" stroke="url(#rim)" stroke-width="0.9"/><circle cx="149.4" cy="65.8" r="3.8" fill="url(#sph)"/><circle cx="149.4" cy="65.8" r="3.3" fill="none" stroke="url(#rim)" stroke-width="0.9"/><circle cx="156.2" cy="80.1" r="3.8" fill="url(#sph)"/><circle cx="156.2" cy="80.1" r="3.3" fill="none" stroke="url(#rim)" stroke-width="0.9"/><circle cx="114.0" cy="111.3" r="3.8" fill="url(#sph)"/><circle cx="114.0" cy="111.3" r="3.3" fill="none" stroke="url(#rim)" stroke-width="0.9"/><circle cx="127.6" cy="118.1" r="3.8" fill="url(#sph)"/><circle cx="127.6" cy="118.1" r="3.3" fill="none" stroke="url(#rim)" stroke-width="0.9"/><circle cx="107.2" cy="135.1" r="3.8" fill="url(#sph)"/><circle cx="107.2" cy="135.1" r="3.3" fill="none" stroke="url(#rim)" stroke-width="0.9"/><circle cx="112.2" cy="129.5" r="3.8" fill="url(#sph)"/><circle cx="112.2" cy="129.5" r="3.3" fill="none" stroke="url(#rim)" stroke-width="0.9"/><circle cx="132.2" cy="141.3" r="3.8" fill="url(#sph)"/><circle cx="132.2" cy="141.3" r="3.3" fill="none" stroke="url(#rim)" stroke-width="0.9"/><circle cx="136.7" cy="149.9" r="3.8" fill="url(#sph)"/><circle cx="136.7" cy="149.9" r="3.3" fill="none" stroke="url(#rim)" stroke-width="0.9"/><circle cx="170.3" cy="93.5" r="3.8" fill="url(#sph)"/><circle cx="170.3" cy="93.5" r="3.3" fill="none" stroke="url(#rim)" stroke-width="0.9"/><circle cx="163.5" cy="103.3" r="3.8" fill="url(#sph)"/><circle cx="163.5" cy="103.3" r="3.3" fill="none" stroke="url(#rim)" stroke-width="0.9"/><circle cx="227.8" cy="104.9" r="3.8" fill="url(#sph)"/><circle cx="227.8" cy="104.9" r="3.3" fill="none" stroke="url(#rim)" stroke-width="0.9"/><circle cx="259.6" cy="93.1" r="3.8" fill="url(#sph)"/><circle cx="259.6" cy="93.1" r="3.3" fill="none" stroke="url(#rim)" stroke-width="0.9"/><circle cx="241.4" cy="108.5" r="3.8" fill="url(#sph)"/><circle cx="241.4" cy="108.5" r="3.3" fill="none" stroke="url(#rim)" stroke-width="0.9"/><circle cx="140.7" cy="112.4" r="3.8" fill="url(#sph)"/><circle cx="140.7" cy="112.4" r="3.3" fill="none" stroke="url(#rim)" stroke-width="0.9"/><circle cx="150.5" cy="107.9" r="3.8" fill="url(#sph)"/><circle cx="150.5" cy="107.9" r="3.3" fill="none" stroke="url(#rim)" stroke-width="0.9"/><circle cx="192.5" cy="117.0" r="3.8" fill="url(#sph)"/><circle cx="192.5" cy="117.0" r="3.3" fill="none" stroke="url(#rim)" stroke-width="0.9"/><circle cx="185.7" cy="143.5" r="3.8" fill="url(#sph)"/><circle cx="185.7" cy="143.5" r="3.3" fill="none" stroke="url(#rim)" stroke-width="0.9"/><circle cx="197.5" cy="149.9" r="3.8" fill="url(#sph)"/><circle cx="197.5" cy="149.9" r="3.3" fill="none" stroke="url(#rim)" stroke-width="0.9"/><circle cx="65.0" cy="17.4" r="3.8" fill="url(#sph)"/><circle cx="65.0" cy="17.4" r="3.3" fill="none" stroke="url(#rim)" stroke-width="0.9"/><circle cx="117.0" cy="86.0" r="4.0" fill="url(#sph)"/><circle cx="117.0" cy="86.0" r="3.5" fill="none" stroke="url(#rim)" stroke-width="0.9"/><circle cx="115.1" cy="78.5" r="4.0" fill="url(#sph)"/><circle cx="115.1" cy="78.5" r="3.5" fill="none" stroke="url(#rim)" stroke-width="0.9"/><circle cx="224.9" cy="27.7" r="4.1" fill="url(#sph)"/><circle cx="224.9" cy="27.7" r="3.6" fill="none" stroke="url(#rim)" stroke-width="0.9"/><circle cx="98.5" cy="31.3" r="4.3" fill="url(#sph)"/><circle cx="98.5" cy="31.3" r="3.8" fill="none" stroke="url(#rim)" stroke-width="0.9"/><circle cx="97.6" cy="42.6" r="4.3" fill="url(#sph)"/><circle cx="97.6" cy="42.6" r="3.8" fill="none" stroke="url(#rim)" stroke-width="0.9"/><circle cx="121.3" cy="30.8" r="4.3" fill="url(#sph)"/><circle cx="121.3" cy="30.8" r="3.8" fill="none" stroke="url(#rim)" stroke-width="0.9"/><circle cx="129.9" cy="37.6" r="4.3" fill="url(#sph)"/><circle cx="129.9" cy="37.6" r="3.8" fill="none" stroke="url(#rim)" stroke-width="0.9"/><circle cx="44.7" cy="57.4" r="4.3" fill="url(#sph)"/><circle cx="44.7" cy="57.4" r="3.8" fill="none" stroke="url(#rim)" stroke-width="0.9"/><circle cx="41.3" cy="78.5" r="4.3" fill="url(#sph)"/><circle cx="41.3" cy="78.5" r="3.8" fill="none" stroke="url(#rim)" stroke-width="0.9"/><circle cx="180.0" cy="6.7" r="4.3" fill="url(#sph)"/><circle cx="180.0" cy="6.7" r="3.8" fill="none" stroke="url(#rim)" stroke-width="0.9"/><circle cx="209.6" cy="12.0" r="4.3" fill="url(#sph)"/><circle cx="209.6" cy="12.0" r="3.8" fill="none" stroke="url(#rim)" stroke-width="0.9"/><circle cx="160.7" cy="18.1" r="4.3" fill="url(#sph)"/><circle cx="160.7" cy="18.1" r="3.8" fill="none" stroke="url(#rim)" stroke-width="0.9"/><circle cx="141.4" cy="19.9" r="4.3" fill="url(#sph)"/><circle cx="141.4" cy="19.9" r="3.8" fill="none" stroke="url(#rim)" stroke-width="0.9"/><circle cx="220.3" cy="21.0" r="4.3" fill="url(#sph)"/><circle cx="220.3" cy="21.0" r="3.8" fill="none" stroke="url(#rim)" stroke-width="0.9"/><circle cx="250.5" cy="24.0" r="4.3" fill="url(#sph)"/><circle cx="250.5" cy="24.0" r="3.8" fill="none" stroke="url(#rim)" stroke-width="0.9"/><circle cx="152.8" cy="27.9" r="4.3" fill="url(#sph)"/><circle cx="152.8" cy="27.9" r="3.8" fill="none" stroke="url(#rim)" stroke-width="0.9"/><circle cx="216.4" cy="36.3" r="4.3" fill="url(#sph)"/><circle cx="216.4" cy="36.3" r="3.8" fill="none" stroke="url(#rim)" stroke-width="0.9"/><circle cx="247.1" cy="31.3" r="4.3" fill="url(#sph)"/><circle cx="247.1" cy="31.3" r="3.8" fill="none" stroke="url(#rim)" stroke-width="0.9"/><circle cx="140.3" cy="43.8" r="4.3" fill="url(#sph)"/><circle cx="140.3" cy="43.8" r="3.8" fill="none" stroke="url(#rim)" stroke-width="0.9"/><circle cx="197.1" cy="52.2" r="4.3" fill="url(#sph)"/><circle cx="197.1" cy="52.2" r="3.8" fill="none" stroke="url(#rim)" stroke-width="0.9"/><circle cx="246.0" cy="56.7" r="4.3" fill="url(#sph)"/><circle cx="246.0" cy="56.7" r="3.8" fill="none" stroke="url(#rim)" stroke-width="0.9"/><circle cx="252.8" cy="62.0" r="4.3" fill="url(#sph)"/><circle cx="252.8" cy="62.0" r="3.8" fill="none" stroke="url(#rim)" stroke-width="0.9"/><circle cx="140.3" cy="62.0" r="4.3" fill="url(#sph)"/><circle cx="140.3" cy="62.0" r="3.8" fill="none" stroke="url(#rim)" stroke-width="0.9"/><circle cx="165.3" cy="74.9" r="4.3" fill="url(#sph)"/><circle cx="165.3" cy="74.9" r="3.8" fill="none" stroke="url(#rim)" stroke-width="0.9"/><circle cx="90.1" cy="107.9" r="4.3" fill="url(#sph)"/><circle cx="90.1" cy="107.9" r="3.8" fill="none" stroke="url(#rim)" stroke-width="0.9"/><circle cx="93.1" cy="129.0" r="4.3" fill="url(#sph)"/><circle cx="93.1" cy="129.0" r="3.8" fill="none" stroke="url(#rim)" stroke-width="0.9"/><circle cx="133.3" cy="124.5" r="4.3" fill="url(#sph)"/><circle cx="133.3" cy="124.5" r="3.8" fill="none" stroke="url(#rim)" stroke-width="0.9"/><circle cx="94.7" cy="154.0" r="4.3" fill="url(#sph)"/><circle cx="94.7" cy="154.0" r="3.8" fill="none" stroke="url(#rim)" stroke-width="0.9"/><circle cx="77.6" cy="161.3" r="4.3" fill="url(#sph)"/><circle cx="77.6" cy="161.3" r="3.8" fill="none" stroke="url(#rim)" stroke-width="0.9"/><circle cx="158.9" cy="88.1" r="4.3" fill="url(#sph)"/><circle cx="158.9" cy="88.1" r="3.8" fill="none" stroke="url(#rim)" stroke-width="0.9"/><circle cx="231.2" cy="86.7" r="4.3" fill="url(#sph)"/><circle cx="231.2" cy="86.7" r="3.8" fill="none" stroke="url(#rim)" stroke-width="0.9"/><circle cx="242.5" cy="88.5" r="4.3" fill="url(#sph)"/><circle cx="242.5" cy="88.5" r="3.8" fill="none" stroke="url(#rim)" stroke-width="0.9"/><circle cx="257.3" cy="87.4" r="4.3" fill="url(#sph)"/><circle cx="257.3" cy="87.4" r="3.8" fill="none" stroke="url(#rim)" stroke-width="0.9"/><circle cx="149.4" cy="93.1" r="4.3" fill="url(#sph)"/><circle cx="149.4" cy="93.1" r="3.8" fill="none" stroke="url(#rim)" stroke-width="0.9"/><circle cx="171.6" cy="104.0" r="4.3" fill="url(#sph)"/><circle cx="171.6" cy="104.0" r="3.8" fill="none" stroke="url(#rim)" stroke-width="0.9"/><circle cx="233.9" cy="100.4" r="4.3" fill="url(#sph)"/><circle cx="233.9" cy="100.4" r="3.8" fill="none" stroke="url(#rim)" stroke-width="0.9"/><circle cx="173.2" cy="113.5" r="4.3" fill="url(#sph)"/><circle cx="173.2" cy="113.5" r="3.8" fill="none" stroke="url(#rim)" stroke-width="0.9"/><circle cx="178.5" cy="119.9" r="4.3" fill="url(#sph)"/><circle cx="178.5" cy="119.9" r="3.8" fill="none" stroke="url(#rim)" stroke-width="0.9"/><circle cx="199.8" cy="114.0" r="4.3" fill="url(#sph)"/><circle cx="199.8" cy="114.0" r="3.8" fill="none" stroke="url(#rim)" stroke-width="0.9"/><circle cx="231.6" cy="113.5" r="4.3" fill="url(#sph)"/><circle cx="231.6" cy="113.5" r="3.8" fill="none" stroke="url(#rim)" stroke-width="0.9"/><circle cx="196.0" cy="124.9" r="4.3" fill="url(#sph)"/><circle cx="196.0" cy="124.9" r="3.8" fill="none" stroke="url(#rim)" stroke-width="0.9"/><circle cx="197.5" cy="159.0" r="4.3" fill="url(#sph)"/><circle cx="197.5" cy="159.0" r="3.8" fill="none" stroke="url(#rim)" stroke-width="0.9"/><circle cx="257.3" cy="160.8" r="4.3" fill="url(#sph)"/><circle cx="257.3" cy="160.8" r="3.8" fill="none" stroke="url(#rim)" stroke-width="0.9"/><circle cx="89.1" cy="74.7" r="4.6" fill="url(#sph)"/><circle cx="89.1" cy="74.7" r="4.1" fill="none" stroke="url(#rim)" stroke-width="0.9"/><circle cx="103.8" cy="5.8" r="4.7" fill="url(#sph)"/><circle cx="103.8" cy="5.8" r="4.2" fill="none" stroke="url(#rim)" stroke-width="0.9"/><circle cx="115.0" cy="5.8" r="4.7" fill="url(#sph)"/><circle cx="115.0" cy="5.8" r="4.2" fill="none" stroke="url(#rim)" stroke-width="0.9"/><circle cx="118.1" cy="64.2" r="4.7" fill="url(#sph)"/><circle cx="118.1" cy="64.2" r="4.2" fill="none" stroke="url(#rim)" stroke-width="0.9"/><circle cx="27.6" cy="81.3" r="4.7" fill="url(#sph)"/><circle cx="27.6" cy="81.3" r="4.2" fill="none" stroke="url(#rim)" stroke-width="0.9"/><circle cx="150.5" cy="6.7" r="4.7" fill="url(#sph)"/><circle cx="150.5" cy="6.7" r="4.2" fill="none" stroke="url(#rim)" stroke-width="0.9"/><circle cx="226.2" cy="37.6" r="4.7" fill="url(#sph)"/><circle cx="226.2" cy="37.6" r="4.2" fill="none" stroke="url(#rim)" stroke-width="0.9"/><circle cx="205.0" cy="46.0" r="4.7" fill="url(#sph)"/><circle cx="205.0" cy="46.0" r="4.2" fill="none" stroke="url(#rim)" stroke-width="0.9"/><circle cx="159.6" cy="68.1" r="4.7" fill="url(#sph)"/><circle cx="159.6" cy="68.1" r="4.2" fill="none" stroke="url(#rim)" stroke-width="0.9"/><circle cx="68.1" cy="102.2" r="4.7" fill="url(#sph)"/><circle cx="68.1" cy="102.2" r="4.2" fill="none" stroke="url(#rim)" stroke-width="0.9"/><circle cx="123.1" cy="145.8" r="4.7" fill="url(#sph)"/><circle cx="123.1" cy="145.8" r="4.2" fill="none" stroke="url(#rim)" stroke-width="0.9"/><circle cx="49.9" cy="147.2" r="4.7" fill="url(#sph)"/><circle cx="49.9" cy="147.2" r="4.2" fill="none" stroke="url(#rim)" stroke-width="0.9"/><circle cx="87.9" cy="148.1" r="4.7" fill="url(#sph)"/><circle cx="87.9" cy="148.1" r="4.2" fill="none" stroke="url(#rim)" stroke-width="0.9"/><circle cx="158.0" cy="96.5" r="4.7" fill="url(#sph)"/><circle cx="158.0" cy="96.5" r="4.2" fill="none" stroke="url(#rim)" stroke-width="0.9"/><circle cx="181.6" cy="102.2" r="4.7" fill="url(#sph)"/><circle cx="181.6" cy="102.2" r="4.2" fill="none" stroke="url(#rim)" stroke-width="0.9"/><circle cx="216.4" cy="131.7" r="4.7" fill="url(#sph)"/><circle cx="216.4" cy="131.7" r="4.2" fill="none" stroke="url(#rim)" stroke-width="0.9"/><circle cx="142.5" cy="159.0" r="4.7" fill="url(#sph)"/><circle cx="142.5" cy="159.0" r="4.2" fill="none" stroke="url(#rim)" stroke-width="0.9"/><circle cx="175.6" cy="162.5" r="5.1" fill="url(#sph)"/><circle cx="175.6" cy="162.5" r="4.6" fill="none" stroke="url(#rim)" stroke-width="0.9"/><circle cx="122.6" cy="18.1" r="5.2" fill="url(#sph)"/><circle cx="122.6" cy="18.1" r="4.8" fill="none" stroke="url(#rim)" stroke-width="0.9"/><circle cx="50.8" cy="19.5" r="5.2" fill="url(#sph)"/><circle cx="50.8" cy="19.5" r="4.8" fill="none" stroke="url(#rim)" stroke-width="0.9"/><circle cx="30.4" cy="31.3" r="5.2" fill="url(#sph)"/><circle cx="30.4" cy="31.3" r="4.8" fill="none" stroke="url(#rim)" stroke-width="0.9"/><circle cx="50.8" cy="35.4" r="5.2" fill="url(#sph)"/><circle cx="50.8" cy="35.4" r="4.8" fill="none" stroke="url(#rim)" stroke-width="0.9"/><circle cx="86.7" cy="38.1" r="5.2" fill="url(#sph)"/><circle cx="86.7" cy="38.1" r="4.8" fill="none" stroke="url(#rim)" stroke-width="0.9"/><circle cx="33.3" cy="44.9" r="5.2" fill="url(#sph)"/><circle cx="33.3" cy="44.9" r="4.8" fill="none" stroke="url(#rim)" stroke-width="0.9"/><circle cx="83.3" cy="58.5" r="5.2" fill="url(#sph)"/><circle cx="83.3" cy="58.5" r="4.8" fill="none" stroke="url(#rim)" stroke-width="0.9"/><circle cx="99.2" cy="64.2" r="5.2" fill="url(#sph)"/><circle cx="99.2" cy="64.2" r="4.8" fill="none" stroke="url(#rim)" stroke-width="0.9"/><circle cx="48.5" cy="70.4" r="5.2" fill="url(#sph)"/><circle cx="48.5" cy="70.4" r="4.8" fill="none" stroke="url(#rim)" stroke-width="0.9"/><circle cx="185.7" cy="28.5" r="5.2" fill="url(#sph)"/><circle cx="185.7" cy="28.5" r="4.8" fill="none" stroke="url(#rim)" stroke-width="0.9"/><circle cx="250.5" cy="50.6" r="5.2" fill="url(#sph)"/><circle cx="250.5" cy="50.6" r="4.8" fill="none" stroke="url(#rim)" stroke-width="0.9"/><circle cx="158.5" cy="58.5" r="5.2" fill="url(#sph)"/><circle cx="158.5" cy="58.5" r="4.8" fill="none" stroke="url(#rim)" stroke-width="0.9"/><circle cx="173.2" cy="65.4" r="5.2" fill="url(#sph)"/><circle cx="173.2" cy="65.4" r="4.8" fill="none" stroke="url(#rim)" stroke-width="0.9"/><circle cx="49.2" cy="91.3" r="5.2" fill="url(#sph)"/><circle cx="49.2" cy="91.3" r="4.8" fill="none" stroke="url(#rim)" stroke-width="0.9"/><circle cx="59.0" cy="95.8" r="5.2" fill="url(#sph)"/><circle cx="59.0" cy="95.8" r="4.8" fill="none" stroke="url(#rim)" stroke-width="0.9"/><circle cx="71.3" cy="88.5" r="5.2" fill="url(#sph)"/><circle cx="71.3" cy="88.5" r="4.8" fill="none" stroke="url(#rim)" stroke-width="0.9"/><circle cx="126.5" cy="92.0" r="5.2" fill="url(#sph)"/><circle cx="126.5" cy="92.0" r="4.8" fill="none" stroke="url(#rim)" stroke-width="0.9"/><circle cx="34.9" cy="117.0" r="5.2" fill="url(#sph)"/><circle cx="34.9" cy="117.0" r="4.8" fill="none" stroke="url(#rim)" stroke-width="0.9"/><circle cx="72.0" cy="132.2" r="5.2" fill="url(#sph)"/><circle cx="72.0" cy="132.2" r="4.8" fill="none" stroke="url(#rim)" stroke-width="0.9"/><circle cx="102.2" cy="142.0" r="5.2" fill="url(#sph)"/><circle cx="102.2" cy="142.0" r="4.8" fill="none" stroke="url(#rim)" stroke-width="0.9"/><circle cx="59.5" cy="149.9" r="5.2" fill="url(#sph)"/><circle cx="59.5" cy="149.9" r="4.8" fill="none" stroke="url(#rim)" stroke-width="0.9"/><circle cx="104.9" cy="151.0" r="5.2" fill="url(#sph)"/><circle cx="104.9" cy="151.0" r="4.8" fill="none" stroke="url(#rim)" stroke-width="0.9"/><circle cx="207.3" cy="95.8" r="5.2" fill="url(#sph)"/><circle cx="207.3" cy="95.8" r="4.8" fill="none" stroke="url(#rim)" stroke-width="0.9"/><circle cx="209.6" cy="105.6" r="5.2" fill="url(#sph)"/><circle cx="209.6" cy="105.6" r="4.8" fill="none" stroke="url(#rim)" stroke-width="0.9"/><circle cx="219.8" cy="111.3" r="5.2" fill="url(#sph)"/><circle cx="219.8" cy="111.3" r="4.8" fill="none" stroke="url(#rim)" stroke-width="0.9"/><circle cx="148.2" cy="127.2" r="5.2" fill="url(#sph)"/><circle cx="148.2" cy="127.2" r="4.8" fill="none" stroke="url(#rim)" stroke-width="0.9"/><circle cx="204.4" cy="129.9" r="5.2" fill="url(#sph)"/><circle cx="204.4" cy="129.9" r="4.8" fill="none" stroke="url(#rim)" stroke-width="0.9"/><circle cx="141.4" cy="142.6" r="5.2" fill="url(#sph)"/><circle cx="141.4" cy="142.6" r="4.8" fill="none" stroke="url(#rim)" stroke-width="0.9"/><circle cx="149.4" cy="152.2" r="5.2" fill="url(#sph)"/><circle cx="149.4" cy="152.2" r="4.8" fill="none" stroke="url(#rim)" stroke-width="0.9"/><circle cx="256.2" cy="149.9" r="5.2" fill="url(#sph)"/><circle cx="256.2" cy="149.9" r="4.8" fill="none" stroke="url(#rim)" stroke-width="0.9"/><circle cx="193.0" cy="83.5" r="5.6" fill="url(#sph)"/><circle cx="193.0" cy="83.5" r="5.1" fill="none" stroke="url(#rim)" stroke-width="0.9"/><circle cx="47.0" cy="46.0" r="5.8" fill="url(#sph)"/><circle cx="47.0" cy="46.0" r="5.3" fill="none" stroke="url(#rim)" stroke-width="0.9"/><circle cx="127.2" cy="69.9" r="5.8" fill="url(#sph)"/><circle cx="127.2" cy="69.9" r="5.3" fill="none" stroke="url(#rim)" stroke-width="0.9"/><circle cx="33.3" cy="104.9" r="5.8" fill="url(#sph)"/><circle cx="33.3" cy="104.9" r="5.3" fill="none" stroke="url(#rim)" stroke-width="0.9"/><circle cx="260.5" cy="112.0" r="5.8" fill="url(#sph)"/><circle cx="260.5" cy="112.0" r="5.3" fill="none" stroke="url(#rim)" stroke-width="0.9"/><circle cx="224.5" cy="135.5" r="5.8" fill="url(#sph)"/><circle cx="224.5" cy="135.5" r="5.3" fill="none" stroke="url(#rim)" stroke-width="0.9"/><circle cx="132.2" cy="9.7" r="6.0" fill="url(#sph)"/><circle cx="132.2" cy="9.7" r="5.5" fill="none" stroke="url(#rim)" stroke-width="0.9"/><circle cx="111.7" cy="20.4" r="6.0" fill="url(#sph)"/><circle cx="111.7" cy="20.4" r="5.5" fill="none" stroke="url(#rim)" stroke-width="0.9"/><circle cx="64.5" cy="79.0" r="6.0" fill="url(#sph)"/><circle cx="64.5" cy="79.0" r="5.5" fill="none" stroke="url(#rim)" stroke-width="0.9"/><circle cx="231.6" cy="46.0" r="6.0" fill="url(#sph)"/><circle cx="231.6" cy="46.0" r="5.5" fill="none" stroke="url(#rim)" stroke-width="0.9"/><circle cx="242.5" cy="42.2" r="6.0" fill="url(#sph)"/><circle cx="242.5" cy="42.2" r="5.5" fill="none" stroke="url(#rim)" stroke-width="0.9"/><circle cx="223.2" cy="55.1" r="6.0" fill="url(#sph)"/><circle cx="223.2" cy="55.1" r="5.5" fill="none" stroke="url(#rim)" stroke-width="0.9"/><circle cx="231.2" cy="79.0" r="6.0" fill="url(#sph)"/><circle cx="231.2" cy="79.0" r="5.5" fill="none" stroke="url(#rim)" stroke-width="0.9"/><circle cx="255.0" cy="77.2" r="6.0" fill="url(#sph)"/><circle cx="255.0" cy="77.2" r="5.5" fill="none" stroke="url(#rim)" stroke-width="0.9"/><circle cx="37.9" cy="93.5" r="6.0" fill="url(#sph)"/><circle cx="37.9" cy="93.5" r="5.5" fill="none" stroke="url(#rim)" stroke-width="0.9"/><circle cx="124.2" cy="108.5" r="6.0" fill="url(#sph)"/><circle cx="124.2" cy="108.5" r="5.5" fill="none" stroke="url(#rim)" stroke-width="0.9"/><circle cx="24.2" cy="119.2" r="6.0" fill="url(#sph)"/><circle cx="24.2" cy="119.2" r="5.5" fill="none" stroke="url(#rim)" stroke-width="0.9"/><circle cx="50.4" cy="120.4" r="6.0" fill="url(#sph)"/><circle cx="50.4" cy="120.4" r="5.5" fill="none" stroke="url(#rim)" stroke-width="0.9"/><circle cx="24.2" cy="130.6" r="6.0" fill="url(#sph)"/><circle cx="24.2" cy="130.6" r="5.5" fill="none" stroke="url(#rim)" stroke-width="0.9"/><circle cx="122.0" cy="132.9" r="6.0" fill="url(#sph)"/><circle cx="122.0" cy="132.9" r="5.5" fill="none" stroke="url(#rim)" stroke-width="0.9"/><circle cx="41.3" cy="141.3" r="6.0" fill="url(#sph)"/><circle cx="41.3" cy="141.3" r="5.5" fill="none" stroke="url(#rim)" stroke-width="0.9"/><circle cx="197.5" cy="101.7" r="6.0" fill="url(#sph)"/><circle cx="197.5" cy="101.7" r="5.5" fill="none" stroke="url(#rim)" stroke-width="0.9"/><circle cx="156.2" cy="115.8" r="6.0" fill="url(#sph)"/><circle cx="156.2" cy="115.8" r="5.5" fill="none" stroke="url(#rim)" stroke-width="0.9"/><circle cx="235.7" cy="127.2" r="6.0" fill="url(#sph)"/><circle cx="235.7" cy="127.2" r="5.5" fill="none" stroke="url(#rim)" stroke-width="0.9"/><circle cx="114.0" cy="33.1" r="6.2" fill="url(#sph)"/><circle cx="114.0" cy="33.1" r="5.7" fill="none" stroke="url(#rim)" stroke-width="0.9"/><circle cx="59.5" cy="50.6" r="6.2" fill="url(#sph)"/><circle cx="59.5" cy="50.6" r="5.7" fill="none" stroke="url(#rim)" stroke-width="0.9"/><circle cx="36.7" cy="69.9" r="6.2" fill="url(#sph)"/><circle cx="36.7" cy="69.9" r="5.7" fill="none" stroke="url(#rim)" stroke-width="0.9"/><circle cx="236.9" cy="30.8" r="6.2" fill="url(#sph)"/><circle cx="236.9" cy="30.8" r="5.7" fill="none" stroke="url(#rim)" stroke-width="0.9"/><circle cx="152.8" cy="49.5" r="6.2" fill="url(#sph)"/><circle cx="152.8" cy="49.5" r="5.7" fill="none" stroke="url(#rim)" stroke-width="0.9"/><circle cx="216.4" cy="49.5" r="6.2" fill="url(#sph)"/><circle cx="216.4" cy="49.5" r="5.7" fill="none" stroke="url(#rim)" stroke-width="0.9"/><circle cx="84.0" cy="136.7" r="6.2" fill="url(#sph)"/><circle cx="84.0" cy="136.7" r="5.7" fill="none" stroke="url(#rim)" stroke-width="0.9"/><circle cx="139.7" cy="97.4" r="6.4" fill="url(#sph)"/><circle cx="139.7" cy="97.4" r="5.9" fill="none" stroke="url(#rim)" stroke-width="0.9"/><circle cx="187.1" cy="158.0" r="6.5" fill="url(#sph)"/><circle cx="187.1" cy="158.0" r="6.0" fill="none" stroke="url(#rim)" stroke-width="0.9"/><circle cx="91.3" cy="5.8" r="6.7" fill="url(#sph)"/><circle cx="91.3" cy="5.8" r="6.2" fill="none" stroke="url(#rim)" stroke-width="0.9"/><circle cx="120.4" cy="43.1" r="6.7" fill="url(#sph)"/><circle cx="120.4" cy="43.1" r="6.2" fill="none" stroke="url(#rim)" stroke-width="0.9"/><circle cx="109.5" cy="55.1" r="6.7" fill="url(#sph)"/><circle cx="109.5" cy="55.1" r="6.2" fill="none" stroke="url(#rim)" stroke-width="0.9"/><circle cx="103.8" cy="79.0" r="6.7" fill="url(#sph)"/><circle cx="103.8" cy="79.0" r="6.2" fill="none" stroke="url(#rim)" stroke-width="0.9"/><circle cx="143.0" cy="30.8" r="6.7" fill="url(#sph)"/><circle cx="143.0" cy="30.8" r="6.2" fill="none" stroke="url(#rim)" stroke-width="0.9"/><circle cx="202.8" cy="35.8" r="6.7" fill="url(#sph)"/><circle cx="202.8" cy="35.8" r="6.2" fill="none" stroke="url(#rim)" stroke-width="0.9"/><circle cx="96.3" cy="93.1" r="6.7" fill="url(#sph)"/><circle cx="96.3" cy="93.1" r="6.2" fill="none" stroke="url(#rim)" stroke-width="0.9"/><circle cx="94.7" cy="114.7" r="6.7" fill="url(#sph)"/><circle cx="94.7" cy="114.7" r="6.2" fill="none" stroke="url(#rim)" stroke-width="0.9"/><circle cx="111.3" cy="118.1" r="6.7" fill="url(#sph)"/><circle cx="111.3" cy="118.1" r="6.2" fill="none" stroke="url(#rim)" stroke-width="0.9"/><circle cx="67.4" cy="140.8" r="6.7" fill="url(#sph)"/><circle cx="67.4" cy="140.8" r="6.2" fill="none" stroke="url(#rim)" stroke-width="0.9"/><circle cx="40.8" cy="154.5" r="6.7" fill="url(#sph)"/><circle cx="40.8" cy="154.5" r="6.2" fill="none" stroke="url(#rim)" stroke-width="0.9"/><circle cx="250.5" cy="102.6" r="6.7" fill="url(#sph)"/><circle cx="250.5" cy="102.6" r="6.2" fill="none" stroke="url(#rim)" stroke-width="0.9"/><circle cx="242.5" cy="132.9" r="6.7" fill="url(#sph)"/><circle cx="242.5" cy="132.9" r="6.2" fill="none" stroke="url(#rim)" stroke-width="0.9"/><circle cx="193.7" cy="137.4" r="6.7" fill="url(#sph)"/><circle cx="193.7" cy="137.4" r="6.2" fill="none" stroke="url(#rim)" stroke-width="0.9"/><circle cx="161.2" cy="156.7" r="6.7" fill="url(#sph)"/><circle cx="161.2" cy="156.7" r="6.2" fill="none" stroke="url(#rim)" stroke-width="0.9"/><circle cx="86.5" cy="84.0" r="6.8" fill="url(#sph)"/><circle cx="86.5" cy="84.0" r="6.3" fill="none" stroke="url(#rim)" stroke-width="0.9"/><circle cx="74.2" cy="5.8" r="7.1" fill="url(#sph)"/><circle cx="74.2" cy="5.8" r="6.6" fill="none" stroke="url(#rim)" stroke-width="0.9"/><circle cx="19.0" cy="35.8" r="7.1" fill="url(#sph)"/><circle cx="19.0" cy="35.8" r="6.6" fill="none" stroke="url(#rim)" stroke-width="0.9"/><circle cx="127.2" cy="54.5" r="7.1" fill="url(#sph)"/><circle cx="127.2" cy="54.5" r="6.6" fill="none" stroke="url(#rim)" stroke-width="0.9"/><circle cx="31.0" cy="59.7" r="7.1" fill="url(#sph)"/><circle cx="31.0" cy="59.7" r="6.6" fill="none" stroke="url(#rim)" stroke-width="0.9"/><circle cx="178.9" cy="17.6" r="7.1" fill="url(#sph)"/><circle cx="178.9" cy="17.6" r="6.6" fill="none" stroke="url(#rim)" stroke-width="0.9"/><circle cx="171.6" cy="48.3" r="7.1" fill="url(#sph)"/><circle cx="171.6" cy="48.3" r="6.6" fill="none" stroke="url(#rim)" stroke-width="0.9"/><circle cx="28.8" cy="145.8" r="7.1" fill="url(#sph)"/><circle cx="28.8" cy="145.8" r="6.6" fill="none" stroke="url(#rim)" stroke-width="0.9"/><circle cx="70.8" cy="154.5" r="7.1" fill="url(#sph)"/><circle cx="70.8" cy="154.5" r="6.6" fill="none" stroke="url(#rim)" stroke-width="0.9"/><circle cx="18.1" cy="157.9" r="7.1" fill="url(#sph)"/><circle cx="18.1" cy="157.9" r="6.6" fill="none" stroke="url(#rim)" stroke-width="0.9"/><circle cx="256.2" cy="128.3" r="7.1" fill="url(#sph)"/><circle cx="256.2" cy="128.3" r="6.6" fill="none" stroke="url(#rim)" stroke-width="0.9"/><circle cx="16.0" cy="76.0" r="7.4" fill="url(#sph)"/><circle cx="16.0" cy="76.0" r="6.9" fill="none" stroke="url(#rim)" stroke-width="0.9"/><circle cx="251.2" cy="9.7" r="7.7" fill="url(#sph)"/><circle cx="251.2" cy="9.7" r="7.2" fill="none" stroke="url(#rim)" stroke-width="0.9"/><circle cx="189.8" cy="42.6" r="7.7" fill="url(#sph)"/><circle cx="189.8" cy="42.6" r="7.2" fill="none" stroke="url(#rim)" stroke-width="0.9"/><circle cx="49.9" cy="104.9" r="7.7" fill="url(#sph)"/><circle cx="49.9" cy="104.9" r="7.2" fill="none" stroke="url(#rim)" stroke-width="0.9"/><circle cx="191.4" cy="65.8" r="7.9" fill="url(#sph)"/><circle cx="191.4" cy="65.8" r="7.4" fill="none" stroke="url(#rim)" stroke-width="0.9"/><circle cx="67.4" cy="65.4" r="8.1" fill="url(#sph)"/><circle cx="67.4" cy="65.4" r="7.6" fill="none" stroke="url(#rim)" stroke-width="0.9"/><circle cx="231.6" cy="10.4" r="8.1" fill="url(#sph)"/><circle cx="231.6" cy="10.4" r="7.6" fill="none" stroke="url(#rim)" stroke-width="0.9"/><circle cx="209.6" cy="24.0" r="8.1" fill="url(#sph)"/><circle cx="209.6" cy="24.0" r="7.6" fill="none" stroke="url(#rim)" stroke-width="0.9"/><circle cx="171.6" cy="33.5" r="8.1" fill="url(#sph)"/><circle cx="171.6" cy="33.5" r="7.6" fill="none" stroke="url(#rim)" stroke-width="0.9"/><circle cx="213.0" cy="63.5" r="8.1" fill="url(#sph)"/><circle cx="213.0" cy="63.5" r="7.6" fill="none" stroke="url(#rim)" stroke-width="0.9"/><circle cx="82.6" cy="98.8" r="8.1" fill="url(#sph)"/><circle cx="82.6" cy="98.8" r="7.6" fill="none" stroke="url(#rim)" stroke-width="0.9"/><circle cx="64.5" cy="122.6" r="8.1" fill="url(#sph)"/><circle cx="64.5" cy="122.6" r="7.6" fill="none" stroke="url(#rim)" stroke-width="0.9"/><circle cx="81.0" cy="124.9" r="8.1" fill="url(#sph)"/><circle cx="81.0" cy="124.9" r="7.6" fill="none" stroke="url(#rim)" stroke-width="0.9"/><circle cx="236.9" cy="66.5" r="8.4" fill="url(#sph)"/><circle cx="236.9" cy="66.5" r="7.9" fill="none" stroke="url(#rim)" stroke-width="0.9"/><circle cx="67.4" cy="39.2" r="8.6" fill="url(#sph)"/><circle cx="67.4" cy="39.2" r="8.1" fill="none" stroke="url(#rim)" stroke-width="0.9"/><circle cx="195.3" cy="15.4" r="8.6" fill="url(#sph)"/><circle cx="195.3" cy="15.4" r="8.1" fill="none" stroke="url(#rim)" stroke-width="0.9"/><circle cx="88.5" cy="20.4" r="9.0" fill="url(#sph)"/><circle cx="88.5" cy="20.4" r="8.5" fill="none" stroke="url(#rim)" stroke-width="0.9"/><circle cx="53.1" cy="134.5" r="9.0" fill="url(#sph)"/><circle cx="53.1" cy="134.5" r="8.5" fill="none" stroke="url(#rim)" stroke-width="0.9"/><circle cx="128.5" cy="160.2" r="9.2" fill="url(#sph)"/><circle cx="128.5" cy="160.2" r="8.7" fill="none" stroke="url(#rim)" stroke-width="0.9"/><circle cx="53.8" cy="160.1" r="9.6" fill="url(#sph)"/><circle cx="53.8" cy="160.1" r="9.1" fill="none" stroke="url(#rim)" stroke-width="0.9"/><circle cx="178.5" cy="81.5" r="9.8" fill="url(#sph)"/><circle cx="178.5" cy="81.5" r="9.3" fill="none" stroke="url(#rim)" stroke-width="0.9"/><circle cx="56.0" cy="8.5" r="10.0" fill="url(#sph)"/><circle cx="56.0" cy="8.5" r="9.5" fill="none" stroke="url(#rim)" stroke-width="0.9"/><circle cx="169.4" cy="139.0" r="10.0" fill="url(#sph)"/><circle cx="169.4" cy="139.0" r="9.5" fill="none" stroke="url(#rim)" stroke-width="0.9"/><circle cx="141.6" cy="82.3" r="10.0" fill="url(#sph)"/><circle cx="141.6" cy="82.3" r="9.5" fill="none" stroke="url(#rim)" stroke-width="0.9"/><circle cx="105.8" cy="166.0" r="10.5" fill="url(#sph)"/><circle cx="105.8" cy="166.0" r="10.0" fill="none" stroke="url(#rim)" stroke-width="0.9"/><circle cx="112.2" cy="98.8" r="10.7" fill="url(#sph)"/><circle cx="112.2" cy="98.8" r="10.2" fill="none" stroke="url(#rim)" stroke-width="0.9"/><circle cx="210.2" cy="81.9" r="11.4" fill="url(#sph)"/><circle cx="210.2" cy="81.9" r="10.9" fill="none" stroke="url(#rim)" stroke-width="0.9"/></g><rect x="0" y="0" width="41.5" height="26.7" fill="#fff"/><text transform="translate(16.00,20.36) scale(1.066,1)" font-family='"Liberation Serif", serif' font-size="14.33" fill="#1a1a1a" stroke="#1a1a1a" stroke-width="0.3">(a)</text><rect x="201.8" y="137.6" width="50.6" height="24.4" fill="#fff"/><text transform="translate(206.83,150.62) scale(1.070,1)" font-family='"Liberation Serif", serif' font-weight="bold" font-size="13.56" fill="#111" stroke="#111" stroke-width="0.2">80µm</text><rect x="209" y="157" width="33.7" height="2.2" fill="#111"/><rect x="330.10" y="142.50" width="3.40" height="3.00" fill="#ff0000" stroke="#6a0000" stroke-width="0.6"/><rect x="333.50" y="138.96" width="4.00" height="6.54" fill="#ff0000" stroke="#6a0000" stroke-width="0.6"/><rect x="337.50" y="132.70" width="4.90" height="12.80" fill="#ff0000" stroke="#6a0000" stroke-width="0.6"/><rect x="342.40" y="123.71" width="5.80" height="21.79" fill="#ff0000" stroke="#6a0000" stroke-width="0.6"/><rect x="348.20" y="108.18" width="7.00" height="37.32" fill="#ff0000" stroke="#6a0000" stroke-width="0.6"/><rect x="355.20" y="85.03" width="8.70" height="60.47" fill="#ff0000" stroke="#6a0000" stroke-width="0.6"/><rect x="363.90" y="56.15" width="9.20" height="89.35" fill="#ff0000" stroke="#6a0000" stroke-width="0.6"/><rect x="373.10" y="39.26" width="9.70" height="106.24" fill="#ff0000" stroke="#6a0000" stroke-width="0.6"/><rect x="384.30" y="51.79" width="9.50" height="93.71" fill="#ff0000" stroke="#6a0000" stroke-width="0.6"/><rect x="398.30" y="85.57" width="9.80" height="59.93" fill="#ff0000" stroke="#6a0000" stroke-width="0.6"/><rect x="414.50" y="115.54" width="10.00" height="29.96" fill="#ff0000" stroke="#6a0000" stroke-width="0.6"/><rect x="434.30" y="132.15" width="9.70" height="13.35" fill="#ff0000" stroke="#6a0000" stroke-width="0.6"/><rect x="457.70" y="139.51" width="9.60" height="5.99" fill="#ff0000" stroke="#6a0000" stroke-width="0.6"/><rect x="485.30" y="142.78" width="9.50" height="2.72" fill="#ff0000" stroke="#6a0000" stroke-width="0.6"/><line x1="316.3" y1="9.3" x2="515.3" y2="9.3" stroke="#888" stroke-width="1"/><line x1="316.3" y1="9.3" x2="316.3" y2="145.5" stroke="#ff6060" stroke-width="1"/><line x1="313.3" y1="145.50" x2="316.3" y2="145.50" stroke="#ff6060" stroke-width="1"/><line x1="314.8" y1="131.88" x2="316.3" y2="131.88" stroke="#ff6060" stroke-width="1"/><line x1="313.3" y1="118.26" x2="316.3" y2="118.26" stroke="#ff6060" stroke-width="1"/><line x1="314.8" y1="104.64" x2="316.3" y2="104.64" stroke="#ff6060" stroke-width="1"/><line x1="313.3" y1="91.02" x2="316.3" y2="91.02" stroke="#ff6060" stroke-width="1"/><line x1="314.8" y1="77.40" x2="316.3" y2="77.40" stroke="#ff6060" stroke-width="1"/><line x1="313.3" y1="63.78" x2="316.3" y2="63.78" stroke="#ff6060" stroke-width="1"/><line x1="314.8" y1="50.16" x2="316.3" y2="50.16" stroke="#ff6060" stroke-width="1"/><line x1="313.3" y1="36.54" x2="316.3" y2="36.54" stroke="#ff6060" stroke-width="1"/><line x1="314.8" y1="22.92" x2="316.3" y2="22.92" stroke="#ff6060" stroke-width="1"/><line x1="313.3" y1="9.30" x2="316.3" y2="9.30" stroke="#ff6060" stroke-width="1"/><text transform="translate(305.97,148.91) scale(1.176,1)" font-family='"Liberation Serif", serif' font-weight="bold" font-size="9.80" fill="#ff0000" stroke="#ff0000" stroke-width="0.2">0</text><text transform="translate(305.94,121.62) scale(1.183,1)" font-family='"Liberation Serif", serif' font-weight="bold" font-size="9.80" fill="#ff0000" stroke="#ff0000" stroke-width="0.2">5</text><text transform="translate(300.18,94.43) scale(1.179,1)" font-family='"Liberation Serif", serif' font-weight="bold" font-size="9.80" fill="#ff0000" stroke="#ff0000" stroke-width="0.2">10</text><text transform="translate(300.18,67.17) scale(1.179,1)" font-family='"Liberation Serif", serif' font-weight="bold" font-size="9.80" fill="#ff0000" stroke="#ff0000" stroke-width="0.2">15</text><text transform="translate(300.63,39.95) scale(1.131,1)" font-family='"Liberation Serif", serif' font-weight="bold" font-size="9.80" fill="#ff0000" stroke="#ff0000" stroke-width="0.2">20</text><text transform="translate(300.63,12.70) scale(1.131,1)" font-family='"Liberation Serif", serif' font-weight="bold" font-size="9.80" fill="#ff0000" stroke="#ff0000" stroke-width="0.2">25</text><line x1="515.3" y1="9.3" x2="515.3" y2="145.5" stroke="#7070ff" stroke-width="1"/><line x1="515.3" y1="145.50" x2="518.3" y2="145.50" stroke="#7070ff" stroke-width="1"/><line x1="515.3" y1="131.88" x2="516.8" y2="131.88" stroke="#7070ff" stroke-width="1"/><line x1="515.3" y1="118.26" x2="518.3" y2="118.26" stroke="#7070ff" stroke-width="1"/><line x1="515.3" y1="104.64" x2="516.8" y2="104.64" stroke="#7070ff" stroke-width="1"/><line x1="515.3" y1="91.02" x2="518.3" y2="91.02" stroke="#7070ff" stroke-width="1"/><line x1="515.3" y1="77.40" x2="516.8" y2="77.40" stroke="#7070ff" stroke-width="1"/><line x1="515.3" y1="63.78" x2="518.3" y2="63.78" stroke="#7070ff" stroke-width="1"/><line x1="515.3" y1="50.16" x2="516.8" y2="50.16" stroke="#7070ff" stroke-width="1"/><line x1="515.3" y1="36.54" x2="518.3" y2="36.54" stroke="#7070ff" stroke-width="1"/><line x1="515.3" y1="22.92" x2="516.8" y2="22.92" stroke="#7070ff" stroke-width="1"/><line x1="515.3" y1="9.30" x2="518.3" y2="9.30" stroke="#7070ff" stroke-width="1"/><text transform="translate(520.18,148.11) scale(1.152,1)" font-family='"Liberation Serif", serif' font-weight="bold" font-size="9.80" fill="#0000ff" stroke="#0000ff" stroke-width="0.2">0</text><text transform="translate(520.12,120.87) scale(1.154,1)" font-family='"Liberation Serif", serif' font-weight="bold" font-size="9.80" fill="#0000ff" stroke="#0000ff" stroke-width="0.2">20</text><text transform="translate(520.46,93.63) scale(1.117,1)" font-family='"Liberation Serif", serif' font-weight="bold" font-size="9.80" fill="#0000ff" stroke="#0000ff" stroke-width="0.2">40</text><text transform="translate(520.21,66.39) scale(1.144,1)" font-family='"Liberation Serif", serif' font-weight="bold" font-size="9.80" fill="#0000ff" stroke="#0000ff" stroke-width="0.2">60</text><text transform="translate(520.24,39.15) scale(1.141,1)" font-family='"Liberation Serif", serif' font-weight="bold" font-size="9.80" fill="#0000ff" stroke="#0000ff" stroke-width="0.2">80</text><text transform="translate(519.67,11.91) scale(1.181,1)" font-family='"Liberation Serif", serif' font-weight="bold" font-size="9.80" fill="#0000ff" stroke="#0000ff" stroke-width="0.2">100</text><line x1="316.3" y1="145.5" x2="515.3" y2="145.5" stroke="#555" stroke-width="1"/><line x1="316.30" y1="145.5" x2="316.30" y2="148.5" stroke="#555" stroke-width="1"/><line x1="332.88" y1="145.5" x2="332.88" y2="147.0" stroke="#555" stroke-width="1"/><line x1="349.47" y1="145.5" x2="349.47" y2="148.5" stroke="#555" stroke-width="1"/><line x1="366.05" y1="145.5" x2="366.05" y2="147.0" stroke="#555" stroke-width="1"/><line x1="382.63" y1="145.5" x2="382.63" y2="148.5" stroke="#555" stroke-width="1"/><line x1="399.22" y1="145.5" x2="399.22" y2="147.0" stroke="#555" stroke-width="1"/><line x1="415.80" y1="145.5" x2="415.80" y2="148.5" stroke="#555" stroke-width="1"/><line x1="432.38" y1="145.5" x2="432.38" y2="147.0" stroke="#555" stroke-width="1"/><line x1="448.97" y1="145.5" x2="448.97" y2="148.5" stroke="#555" stroke-width="1"/><line x1="465.55" y1="145.5" x2="465.55" y2="147.0" stroke="#555" stroke-width="1"/><line x1="482.13" y1="145.5" x2="482.13" y2="148.5" stroke="#555" stroke-width="1"/><line x1="498.72" y1="145.5" x2="498.72" y2="147.0" stroke="#555" stroke-width="1"/><line x1="515.30" y1="145.5" x2="515.30" y2="148.5" stroke="#555" stroke-width="1"/><text transform="translate(313.36,158.44) scale(1.153,1)" font-family='"Liberation Serif", serif' font-weight="bold" font-size="10.20" fill="#111" stroke="#111" stroke-width="0.2">0</text><text transform="translate(343.33,158.44)" font-family='"Liberation Serif", serif' font-weight="bold" font-size="10.20" letter-spacing="2.02" fill="#111" stroke="#111" stroke-width="0.2">20</text><text transform="translate(376.81,158.44)" font-family='"Liberation Serif", serif' font-weight="bold" font-size="10.20" letter-spacing="1.71" fill="#111" stroke="#111" stroke-width="0.2">40</text><text transform="translate(409.74,158.44)" font-family='"Liberation Serif", serif' font-weight="bold" font-size="10.20" letter-spacing="1.94" fill="#111" stroke="#111" stroke-width="0.2">60</text><text transform="translate(442.94,158.44)" font-family='"Liberation Serif", serif' font-weight="bold" font-size="10.20" letter-spacing="1.91" fill="#111" stroke="#111" stroke-width="0.2">80</text><text transform="translate(473.07,158.44)" font-family='"Liberation Serif", serif' font-weight="bold" font-size="10.20" letter-spacing="1.20" fill="#111" stroke="#111" stroke-width="0.2">100</text><text transform="translate(506.23,158.44)" font-family='"Liberation Serif", serif' font-weight="bold" font-size="10.20" letter-spacing="1.20" fill="#111" stroke="#111" stroke-width="0.2">120</text><text transform="translate(386.29,171.06)" font-family='"Liberation Serif", serif' font-weight="bold" font-size="11.60" letter-spacing="0.93" fill="#111" stroke="#111" stroke-width="0.2">Size (µm)</text><polyline points="330.5,145.2 334.2,144.1 337.5,142.6 341.6,139.6 346.4,134.1 352.4,124.9 359.4,109 367.7,86.9 377.3,60.4 389,36.8 402.9,21.8 419.3,14.4 438.6,11.1 461.8,9.9 489.5,9.6" fill="none" stroke="#5a5aff" stroke-width="0.9"/><rect x="332.70" y="142.60" width="3" height="3" fill="#0000ff"/><rect x="336.00" y="141.10" width="3" height="3" fill="#0000ff"/><rect x="340.10" y="138.10" width="3" height="3" fill="#0000ff"/><rect x="344.90" y="132.60" width="3" height="3" fill="#0000ff"/><rect x="350.90" y="123.40" width="3" height="3" fill="#0000ff"/><rect x="357.90" y="107.50" width="3" height="3" fill="#0000ff"/><rect x="366.20" y="85.40" width="3" height="3" fill="#0000ff"/><rect x="375.80" y="58.90" width="3" height="3" fill="#0000ff"/><rect x="387.50" y="35.30" width="3" height="3" fill="#0000ff"/><rect x="401.40" y="20.30" width="3" height="3" fill="#0000ff"/><rect x="417.80" y="12.90" width="3" height="3" fill="#0000ff"/><rect x="437.10" y="9.60" width="3" height="3" fill="#0000ff"/><rect x="460.30" y="8.40" width="3" height="3" fill="#0000ff"/><rect x="488.00" y="8.10" width="3" height="3" fill="#0000ff"/><text transform="translate(427.99,29.58)" font-family='"Liberation Serif", serif' font-weight="bold" font-size="12.00" letter-spacing="0.01" fill="#111" stroke="#111" stroke-width="0.2">D10: 19.46µm</text><text transform="translate(427.99,43.78)" font-family='"Liberation Serif", serif' font-weight="bold" font-size="12.00" letter-spacing="0.01" fill="#111" stroke="#111" stroke-width="0.2">D50: 33.20µm</text><text transform="translate(427.99,58.08)" font-family='"Liberation Serif", serif' font-weight="bold" font-size="12.00" letter-spacing="0.01" fill="#111" stroke="#111" stroke-width="0.2">D90: 51.87µm</text><text transform="translate(300.14,125.73) rotate(-90)" font-family='"Liberation Serif", serif' font-weight="bold" font-size="13.00" letter-spacing="0.33" fill="#ff0000" stroke="#ff0000" stroke-width="0.2">Percentage (%)</text><text transform="translate(541.63,140.82) rotate(-90)" font-family='"Liberation Serif", serif' font-weight="bold" font-size="13.00" letter-spacing="0.24" fill="#0000ff" stroke="#0000ff" stroke-width="0.2">Cum. Percentage (%)</text><text transform="translate(271.76,20.41) scale(1.068,1)" font-family='"Liberation Serif", serif' font-size="14.05" fill="#1a1a1a" stroke="#1a1a1a" stroke-width="0.3">(b)</text><line x1="15.3" y1="184" x2="257.3" y2="184" stroke="#a8a8a8" stroke-width="1.6"/><line x1="257.8" y1="183.2" x2="257.8" y2="342.5" stroke="#555" stroke-width="1.5"/><line x1="15.3" y1="183.2" x2="15.3" y2="345.3" stroke="#333" stroke-width="1.5"/><line x1="15.3" y1="342.5" x2="258.5" y2="342.5" stroke="#444" stroke-width="1.3"/><line x1="15.30" y1="342.5" x2="15.30" y2="345.5" stroke="#555" stroke-width="1"/><line x1="28.74" y1="342.5" x2="28.74" y2="344.0" stroke="#555" stroke-width="1"/><line x1="42.19" y1="342.5" x2="42.19" y2="345.5" stroke="#555" stroke-width="1"/><line x1="55.63" y1="342.5" x2="55.63" y2="344.0" stroke="#555" stroke-width="1"/><line x1="69.08" y1="342.5" x2="69.08" y2="345.5" stroke="#555" stroke-width="1"/><line x1="82.52" y1="342.5" x2="82.52" y2="344.0" stroke="#555" stroke-width="1"/><line x1="95.97" y1="342.5" x2="95.97" y2="345.5" stroke="#555" stroke-width="1"/><line x1="109.41" y1="342.5" x2="109.41" y2="344.0" stroke="#555" stroke-width="1"/><line x1="122.86" y1="342.5" x2="122.86" y2="345.5" stroke="#555" stroke-width="1"/><line x1="136.30" y1="342.5" x2="136.30" y2="344.0" stroke="#555" stroke-width="1"/><line x1="149.74" y1="342.5" x2="149.74" y2="345.5" stroke="#555" stroke-width="1"/><line x1="163.19" y1="342.5" x2="163.19" y2="344.0" stroke="#555" stroke-width="1"/><line x1="176.63" y1="342.5" x2="176.63" y2="345.5" stroke="#555" stroke-width="1"/><line x1="190.08" y1="342.5" x2="190.08" y2="344.0" stroke="#555" stroke-width="1"/><line x1="203.52" y1="342.5" x2="203.52" y2="345.5" stroke="#555" stroke-width="1"/><line x1="216.97" y1="342.5" x2="216.97" y2="344.0" stroke="#555" stroke-width="1"/><line x1="230.41" y1="342.5" x2="230.41" y2="345.5" stroke="#555" stroke-width="1"/><line x1="243.86" y1="342.5" x2="243.86" y2="344.0" stroke="#555" stroke-width="1"/><line x1="257.30" y1="342.5" x2="257.30" y2="345.5" stroke="#555" stroke-width="1"/><text transform="translate(4.49,356.25) scale(1.259,1)" font-family='"Liberation Serif", serif' font-weight="bold" font-size="10.00" fill="#111" stroke="#111" stroke-width="0.2">–80</text><text transform="translate(31.38,356.25) scale(1.259,1)" font-family='"Liberation Serif", serif' font-weight="bold" font-size="10.00" fill="#111" stroke="#111" stroke-width="0.2">–60</text><text transform="translate(58.27,356.25) scale(1.259,1)" font-family='"Liberation Serif", serif' font-weight="bold" font-size="10.00" fill="#111" stroke="#111" stroke-width="0.2">–40</text><text transform="translate(85.16,356.25) scale(1.259,1)" font-family='"Liberation Serif", serif' font-weight="bold" font-size="10.00" fill="#111" stroke="#111" stroke-width="0.2">–20</text><text transform="translate(119.44,356.38) scale(1.365,1)" font-family='"Liberation Serif", serif' font-weight="bold" font-size="10.00" fill="#111" stroke="#111" stroke-width="0.2">0</text><text transform="translate(143.30,356.38) scale(1.283,1)" font-family='"Liberation Serif", serif' font-weight="bold" font-size="10.00" fill="#111" stroke="#111" stroke-width="0.2">20</text><text transform="translate(170.58,356.38) scale(1.242,1)" font-family='"Liberation Serif", serif' font-weight="bold" font-size="10.00" fill="#111" stroke="#111" stroke-width="0.2">40</text><text transform="translate(197.18,356.38) scale(1.272,1)" font-family='"Liberation Serif", serif' font-weight="bold" font-size="10.00" fill="#111" stroke="#111" stroke-width="0.2">60</text><text transform="translate(224.10,356.38) scale(1.269,1)" font-family='"Liberation Serif", serif' font-weight="bold" font-size="10.00" fill="#111" stroke="#111" stroke-width="0.2">80</text><text transform="translate(248.29,356.38) scale(1.259,1)" font-family='"Liberation Serif", serif' font-weight="bold" font-size="10.00" fill="#111" stroke="#111" stroke-width="0.2">100</text><text transform="translate(88.21,372.25)" font-family='"Liberation Serif", serif' font-weight="bold" font-size="12.90" letter-spacing="1.20" fill="#111" stroke="#111" stroke-width="0.2">Tempearture</text><text transform="translate(175.86,372.32) scale(1.442,1)" font-family='"Liberation Serif", serif' font-size="12.12" fill="#111" stroke="#111" stroke-width="0.3">(</text><text transform="translate(181.20,366.53) scale(1.200,1)" font-family='"Liberation Serif", serif' font-size="6.67" fill="#111" stroke="#111" stroke-width="0.3">o</text><text transform="translate(186.03,373.02) scale(1.458,1)" font-family='"Liberation Serif", serif' font-size="11.50" fill="#111" stroke="#111" stroke-width="0.3">C</text><text transform="translate(196.38,372.38) scale(1.560,1)" font-family='"Liberation Serif", serif' font-size="12.20" fill="#111" stroke="#111" stroke-width="0.3">)</text><text transform="translate(20.92,204.32) scale(1.003,1)" font-family='"Liberation Serif", serif' font-size="13.55" fill="#1a1a1a" stroke="#1a1a1a" stroke-width="0.3">(</text><text transform="translate(25.67,204.16) scale(1.112,1)" font-family='"Liberation Serif", serif' font-weight="bold" font-size="13.54" fill="#1a1a1a" stroke="#1a1a1a" stroke-width="0.2">c</text><text transform="translate(32.96,204.32) scale(1.003,1)" font-family='"Liberation Serif", serif' font-size="13.55" fill="#1a1a1a" stroke="#1a1a1a" stroke-width="0.3">)</text><path d="M15.60,249.40 C17.17,249.10 21.93,248.17 25.00,247.60 C28.07,247.03 30.83,246.67 34.00,246.00 C37.17,245.33 40.17,244.43 44.00,243.60 C47.83,242.77 52.00,241.70 57.00,241.00 C62.00,240.30 69.50,239.80 74.00,239.40 C78.50,239.00 80.00,239.17 84.00,238.60 C88.00,238.03 94.33,236.68 98.00,236.00 C101.67,235.32 103.67,234.90 106.00,234.50 C108.33,234.10 110.33,233.73 112.00,233.60 C113.67,233.47 114.67,233.58 116.00,233.70 C117.33,233.82 118.78,234.12 120.00,234.30 C121.22,234.48 121.97,234.47 123.30,234.80 C124.63,235.13 126.10,235.78 128.00,236.30 C129.90,236.82 132.48,238.37 134.70,237.90 C136.92,237.43 139.50,234.90 141.30,233.50 C143.10,232.10 144.13,230.52 145.50,229.50 C146.87,228.48 148.08,227.55 149.50,227.40 C150.92,227.25 152.50,228.05 154.00,228.60 C155.50,229.15 157.07,230.98 158.50,230.70 C159.93,230.42 161.38,228.77 162.60,226.90 C163.82,225.03 164.85,221.68 165.80,219.50 C166.75,217.32 167.48,214.47 168.30,213.80 C169.12,213.13 169.88,214.00 170.70,215.50 C171.52,217.00 172.23,220.08 173.20,222.80 C174.17,225.52 175.27,229.62 176.50,231.80 C177.73,233.98 179.10,234.72 180.60,235.90 C182.10,237.08 183.05,238.13 185.50,238.90 C187.95,239.67 191.22,240.18 195.30,240.50 C199.38,240.82 204.22,240.78 210.00,240.80 C215.78,240.82 224.17,240.70 230.00,240.60 C235.83,240.50 240.45,240.32 245.00,240.20 C249.55,240.08 255.25,239.95 257.30,239.90" fill="none" stroke="#ff0000" stroke-width="2" stroke-linejoin="round"/><path d="M15.60,272.90 C17.00,273.18 21.23,274.08 24.00,274.60 C26.77,275.12 29.53,275.60 32.20,276.00 C34.87,276.40 37.53,276.73 40.00,277.00 C42.47,277.27 44.30,277.45 47.00,277.60 C49.70,277.75 53.53,277.93 56.20,277.90 C58.87,277.87 60.85,277.52 63.00,277.40 C65.15,277.28 67.15,277.42 69.10,277.20 C71.05,276.98 73.05,276.17 74.70,276.10 C76.35,276.03 77.47,276.65 79.00,276.80 C80.53,276.95 82.07,276.55 83.90,277.00 C85.73,277.45 88.15,278.57 90.00,279.50 C91.85,280.43 93.23,281.80 95.00,282.60 C96.77,283.40 98.93,284.23 100.60,284.30 C102.27,284.37 103.77,283.38 105.00,283.00 C106.23,282.62 106.95,282.25 108.00,282.00 C109.05,281.75 110.07,281.00 111.30,281.50 C112.53,282.00 114.03,284.83 115.40,285.00 C116.77,285.17 118.07,282.33 119.50,282.50 C120.93,282.67 122.37,284.53 124.00,286.00 C125.63,287.47 127.97,289.72 129.30,291.30 C130.63,292.88 131.18,294.18 132.00,295.50 C132.82,296.82 133.53,298.95 134.20,299.20 C134.87,299.45 135.45,297.95 136.00,297.00 C136.55,296.05 137.00,295.33 137.50,293.50 C138.00,291.67 138.47,288.05 139.00,286.00 C139.53,283.95 139.87,282.45 140.70,281.20 C141.53,279.95 142.63,279.23 144.00,278.50 C145.37,277.77 147.40,276.97 148.90,276.80 C150.40,276.63 151.77,277.18 153.00,277.50 C154.23,277.82 154.93,279.02 156.30,278.70 C157.67,278.38 159.43,275.87 161.20,275.60 C162.97,275.33 164.77,277.20 166.90,277.10 C169.03,277.00 171.48,275.18 174.00,275.00 C176.52,274.82 179.33,275.77 182.00,276.00 C184.67,276.23 187.33,276.40 190.00,276.40 C192.67,276.40 194.67,275.90 198.00,276.00 C201.33,276.10 206.67,276.57 210.00,277.00 C213.33,277.43 216.00,278.60 218.00,278.60 C220.00,278.60 220.33,277.13 222.00,277.00 C223.67,276.87 226.00,277.63 228.00,277.80 C230.00,277.97 232.00,278.03 234.00,278.00 C236.00,277.97 238.00,277.70 240.00,277.60 C242.00,277.50 244.00,277.17 246.00,277.40 C248.00,277.63 250.12,278.90 252.00,279.00 C253.88,279.10 256.42,278.17 257.30,278.00" fill="none" stroke="#0000ff" stroke-width="2" stroke-linejoin="round"/><text transform="translate(59.10,221.38)" font-family='"Liberation Serif", serif' font-weight="bold" font-size="11.20" letter-spacing="0.66" fill="#ff0000" stroke="#ff0000" stroke-width="0.2">Heating</text><line x1="61" y1="227" x2="94" y2="227" stroke="#ff0000" stroke-width="2"/><polygon points="92,224.6 101,227 92,229.4" fill="#ff0000"/><text transform="translate(181.57,293.28)" font-family='"Liberation Serif", serif' font-weight="bold" font-size="11.20" letter-spacing="0.78" fill="#0000ff" stroke="#0000ff" stroke-width="0.2">Cooling</text><line x1="191" y1="299.6" x2="220" y2="299.6" stroke="#0000ff" stroke-width="2"/><polygon points="193,297.2 184.6,299.6 193,302" fill="#0000ff"/><text transform="translate(31.85,328.75) rotate(-90)" font-family='"Liberation Serif", serif' font-weight="bold" font-size="9.40" letter-spacing="-0.02" fill="#111" stroke="#111" stroke-width="0.2">0.03mJ/mg</text><line x1="41.2" y1="296" x2="41.2" y2="320.2" stroke="#111" stroke-width="1"/><polygon points="39.4,297.5 41.2,293.4 43,297.5" fill="#111"/><polygon points="39.4,318.7 41.2,322.8 43,318.7" fill="#111"/><rect x="310.9" y="187.5" width="211.89999999999998" height="156.3" fill="none" stroke="#9a9a9a" stroke-width="1.5"/><line x1="310.90" y1="343.8" x2="310.90" y2="346.8" stroke="#555" stroke-width="0.8"/><line x1="319.73" y1="343.8" x2="319.73" y2="345.3" stroke="#555" stroke-width="0.8"/><line x1="328.56" y1="343.8" x2="328.56" y2="346.8" stroke="#555" stroke-width="0.8"/><line x1="337.39" y1="343.8" x2="337.39" y2="345.3" stroke="#555" stroke-width="0.8"/><line x1="346.22" y1="343.8" x2="346.22" y2="346.8" stroke="#555" stroke-width="0.8"/><line x1="355.05" y1="343.8" x2="355.05" y2="345.3" stroke="#555" stroke-width="0.8"/><line x1="363.88" y1="343.8" x2="363.88" y2="346.8" stroke="#555" stroke-width="0.8"/><line x1="372.70" y1="343.8" x2="372.70" y2="345.3" stroke="#555" stroke-width="0.8"/><line x1="381.53" y1="343.8" x2="381.53" y2="346.8" stroke="#555" stroke-width="0.8"/><line x1="390.36" y1="343.8" x2="390.36" y2="345.3" stroke="#555" stroke-width="0.8"/><line x1="399.19" y1="343.8" x2="399.19" y2="346.8" stroke="#555" stroke-width="0.8"/><line x1="408.02" y1="343.8" x2="408.02" y2="345.3" stroke="#555" stroke-width="0.8"/><line x1="416.85" y1="343.8" x2="416.85" y2="346.8" stroke="#555" stroke-width="0.8"/><line x1="425.68" y1="343.8" x2="425.68" y2="345.3" stroke="#555" stroke-width="0.8"/><line x1="434.51" y1="343.8" x2="434.51" y2="346.8" stroke="#555" stroke-width="0.8"/><line x1="443.34" y1="343.8" x2="443.34" y2="345.3" stroke="#555" stroke-width="0.8"/><line x1="452.17" y1="343.8" x2="452.17" y2="346.8" stroke="#555" stroke-width="0.8"/><line x1="461.00" y1="343.8" x2="461.00" y2="345.3" stroke="#555" stroke-width="0.8"/><line x1="469.82" y1="343.8" x2="469.82" y2="346.8" stroke="#555" stroke-width="0.8"/><line x1="478.65" y1="343.8" x2="478.65" y2="345.3" stroke="#555" stroke-width="0.8"/><line x1="487.48" y1="343.8" x2="487.48" y2="346.8" stroke="#555" stroke-width="0.8"/><line x1="496.31" y1="343.8" x2="496.31" y2="345.3" stroke="#555" stroke-width="0.8"/><line x1="505.14" y1="343.8" x2="505.14" y2="346.8" stroke="#555" stroke-width="0.8"/><line x1="513.97" y1="343.8" x2="513.97" y2="345.3" stroke="#555" stroke-width="0.8"/><line x1="522.80" y1="343.8" x2="522.80" y2="346.8" stroke="#555" stroke-width="0.8"/><line x1="310.09999999999997" y1="194.40" x2="312.09999999999997" y2="194.40" stroke="#555" stroke-width="1"/><line x1="310.09999999999997" y1="202.12" x2="312.09999999999997" y2="202.12" stroke="#555" stroke-width="1"/><line x1="310.09999999999997" y1="209.84" x2="312.09999999999997" y2="209.84" stroke="#555" stroke-width="1"/><line x1="310.09999999999997" y1="217.56" x2="312.09999999999997" y2="217.56" stroke="#555" stroke-width="1"/><line x1="310.09999999999997" y1="225.28" x2="312.09999999999997" y2="225.28" stroke="#555" stroke-width="1"/><line x1="310.09999999999997" y1="233.00" x2="312.09999999999997" y2="233.00" stroke="#555" stroke-width="1"/><line x1="310.09999999999997" y1="240.72" x2="312.09999999999997" y2="240.72" stroke="#555" stroke-width="1"/><line x1="310.09999999999997" y1="248.44" x2="312.09999999999997" y2="248.44" stroke="#555" stroke-width="1"/><line x1="310.09999999999997" y1="256.16" x2="312.09999999999997" y2="256.16" stroke="#555" stroke-width="1"/><line x1="310.09999999999997" y1="263.88" x2="312.09999999999997" y2="263.88" stroke="#555" stroke-width="1"/><line x1="310.09999999999997" y1="271.60" x2="312.09999999999997" y2="271.60" stroke="#555" stroke-width="1"/><line x1="310.09999999999997" y1="279.32" x2="312.09999999999997" y2="279.32" stroke="#555" stroke-width="1"/><line x1="310.09999999999997" y1="287.04" x2="312.09999999999997" y2="287.04" stroke="#555" stroke-width="1"/><line x1="310.09999999999997" y1="294.76" x2="312.09999999999997" y2="294.76" stroke="#555" stroke-width="1"/><line x1="310.09999999999997" y1="302.48" x2="312.09999999999997" y2="302.48" stroke="#555" stroke-width="1"/><line x1="310.09999999999997" y1="310.20" x2="312.09999999999997" y2="310.20" stroke="#555" stroke-width="1"/><line x1="310.09999999999997" y1="317.92" x2="312.09999999999997" y2="317.92" stroke="#555" stroke-width="1"/><line x1="310.09999999999997" y1="325.64" x2="312.09999999999997" y2="325.64" stroke="#555" stroke-width="1"/><line x1="310.09999999999997" y1="333.36" x2="312.09999999999997" y2="333.36" stroke="#555" stroke-width="1"/><line x1="310.09999999999997" y1="341.08" x2="312.09999999999997" y2="341.08" stroke="#555" stroke-width="1"/><text transform="translate(304.97,356.55) scale(1.106,1)" font-family='"Liberation Serif", serif' font-weight="bold" font-size="11.20" fill="#111" stroke="#111" stroke-width="0.2">25</text><text transform="translate(322.70,356.57) scale(1.100,1)" font-family='"Liberation Serif", serif' font-weight="bold" font-size="11.20" fill="#111" stroke="#111" stroke-width="0.2">30</text><text transform="translate(340.35,356.55) scale(1.100,1)" font-family='"Liberation Serif", serif' font-weight="bold" font-size="11.20" fill="#111" stroke="#111" stroke-width="0.2">35</text><text transform="translate(358.33,356.57) scale(1.071,1)" font-family='"Liberation Serif", serif' font-weight="bold" font-size="11.20" fill="#111" stroke="#111" stroke-width="0.2">40</text><text transform="translate(375.98,356.53) scale(1.071,1)" font-family='"Liberation Serif", serif' font-weight="bold" font-size="11.20" fill="#111" stroke="#111" stroke-width="0.2">45</text><text transform="translate(393.30,356.57) scale(1.103,1)" font-family='"Liberation Serif", serif' font-weight="bold" font-size="11.20" fill="#111" stroke="#111" stroke-width="0.2">50</text><text transform="translate(410.96,356.51) scale(1.103,1)" font-family='"Liberation Serif", serif' font-weight="bold" font-size="11.20" fill="#111" stroke="#111" stroke-width="0.2">55</text><text transform="translate(428.68,356.57) scale(1.097,1)" font-family='"Liberation Serif", serif' font-weight="bold" font-size="11.20" fill="#111" stroke="#111" stroke-width="0.2">60</text><text transform="translate(446.34,356.55) scale(1.097,1)" font-family='"Liberation Serif", serif' font-weight="bold" font-size="11.20" fill="#111" stroke="#111" stroke-width="0.2">65</text><text transform="translate(463.70,356.57) scale(1.125,1)" font-family='"Liberation Serif", serif' font-weight="bold" font-size="11.20" fill="#111" stroke="#111" stroke-width="0.2">70</text><text transform="translate(481.36,356.51) scale(1.125,1)" font-family='"Liberation Serif", serif' font-weight="bold" font-size="11.20" fill="#111" stroke="#111" stroke-width="0.2">75</text><text transform="translate(499.34,356.57) scale(1.094,1)" font-family='"Liberation Serif", serif' font-weight="bold" font-size="11.20" fill="#111" stroke="#111" stroke-width="0.2">80</text><text transform="translate(517.00,356.57) scale(1.094,1)" font-family='"Liberation Serif", serif' font-weight="bold" font-size="11.20" fill="#111" stroke="#111" stroke-width="0.2">85</text><text transform="translate(382.25,371.60)" font-family='"Liberation Serif", serif' font-weight="bold" font-size="12.90" letter-spacing="0.80" fill="#111" stroke="#111" stroke-width="0.2">2θ (degree)</text><text transform="translate(298.60,309.22) rotate(-90)" font-family='"Liberation Serif", serif' font-weight="bold" font-size="13.00" letter-spacing="0.22" fill="#111" stroke="#111" stroke-width="0.2">Intensity (a.u.)</text><text transform="translate(266.26,197.83) scale(1.046,1)" font-family='"Liberation Serif", serif' font-size="14.44" fill="#1a1a1a" stroke="#1a1a1a" stroke-width="0.3">(d)</text><text transform="translate(440.35,202.79)" font-family='"Liberation Serif", serif' font-size="9.20" letter-spacing="-0.07" fill="#1a1a1a" stroke="#1a1a1a" stroke-width="0.3">Ni-rich NiTi Powder</text><polyline points="310.90,326.89 311.04,326.78 311.18,327.08 311.32,326.73 311.47,327.01 311.61,326.91 311.75,326.72 311.89,326.99 312.03,326.71 312.17,326.95 312.31,326.73 312.45,326.74 312.60,326.94 312.74,327.19 312.88,326.76 313.02,326.82 313.16,327.06 313.30,327.26 313.44,327.03 313.58,326.93 313.73,327.27 313.87,326.72 314.01,327.20 314.15,326.86 314.29,326.77 314.43,326.76 314.57,326.87 314.71,327.18 314.86,326.79 315.00,327.03 315.14,327.07 315.28,326.91 315.42,327.01 315.56,326.72 315.70,326.72 315.84,326.81 315.99,327.09 316.13,326.94 316.27,326.87 316.41,327.03 316.55,326.95 316.69,326.86 316.83,327.16 316.97,327.10 317.12,326.83 317.26,327.02 317.40,326.99 317.54,327.20 317.68,327.11 317.82,326.85 317.96,327.26 318.10,326.75 318.25,326.92 318.39,327.13 318.53,326.76 318.67,326.96 318.81,326.69 318.95,327.07 319.09,327.13 319.23,327.01 319.38,327.19 319.52,326.85 319.66,327.08 319.80,327.02 319.94,327.01 320.08,326.93 320.22,327.16 320.36,327.22 320.51,326.94 320.65,327.05 320.79,326.69 320.93,327.07 321.07,327.03 321.21,327.24 321.35,327.13 321.49,326.81 321.64,326.87 321.78,327.03 321.92,326.64 322.06,326.90 322.20,326.72 322.34,326.69 322.48,326.65 322.63,327.07 322.77,326.68 322.91,326.75 323.05,326.83 323.19,327.11 323.33,326.63 323.47,326.84 323.61,326.89 323.76,327.08 323.90,327.03 324.04,327.04 324.18,326.68 324.32,326.75 324.46,326.70 324.60,326.99 324.74,327.02 324.89,326.51 325.03,326.50 325.17,326.50 325.31,326.47 325.45,326.58 325.59,326.60 325.73,326.36 325.87,326.15 326.02,326.34 326.16,326.25 326.30,326.30 326.44,326.47 326.58,326.25 326.72,326.09 326.86,326.11 327.00,326.11 327.15,325.73 327.29,326.25 327.43,326.20 327.57,326.30 327.71,326.31 327.85,326.13 327.99,326.20 328.13,326.09 328.28,326.47 328.42,326.18 328.56,326.24 328.70,326.37 328.84,326.38 328.98,326.53 329.12,326.39 329.26,326.39 329.41,326.51 329.55,326.50 329.69,326.68 329.83,326.50 329.97,327.02 330.11,326.88 330.25,326.61 330.39,326.69 330.54,326.76 330.68,326.78 330.82,326.64 330.96,327.09 331.10,327.18 331.24,326.87 331.38,326.89 331.52,326.65 331.67,326.67 331.81,326.82 331.95,326.78 332.09,327.12 332.23,326.72 332.37,326.64 332.51,327.20 332.66,326.95 332.80,326.73 332.94,326.97 333.08,326.66 333.22,326.96 333.36,327.23 333.50,327.17 333.64,327.07 333.79,326.81 333.93,326.87 334.07,326.76 334.21,327.12 334.35,326.98 334.49,327.13 334.63,326.86 334.77,326.80 334.92,327.15 335.06,327.26 335.20,327.18 335.34,327.15 335.48,327.16 335.62,327.11 335.76,326.81 335.90,326.98 336.05,326.88 336.19,326.69 336.33,326.69 336.47,326.84 336.61,326.83 336.75,327.09 336.89,327.25 337.03,326.94 337.18,327.24 337.32,327.27 337.46,327.25 337.60,326.90 337.74,326.81 337.88,326.81 338.02,326.80 338.16,326.80 338.31,327.05 338.45,327.22 338.59,327.18 338.73,326.97 338.87,327.07 339.01,327.16 339.15,326.73 339.29,327.08 339.44,327.23 339.58,327.15 339.72,327.13 339.86,326.97 340.00,326.79 340.14,327.16 340.28,326.88 340.42,327.16 340.57,327.27 340.71,326.92 340.85,326.93 340.99,327.25 341.13,327.12 341.27,326.79 341.41,326.76 341.55,326.78 341.70,327.23 341.84,327.17 341.98,326.77 342.12,327.18 342.26,327.27 342.40,327.08 342.54,326.90 342.68,327.02 342.83,326.76 342.97,326.70 343.11,327.27 343.25,327.08 343.39,327.00 343.53,327.25 343.67,326.95 343.82,327.21 343.96,327.18 344.10,326.81 344.24,326.84 344.38,326.86 344.52,326.83 344.66,327.04 344.80,326.84 344.95,326.94 345.09,326.77 345.23,327.23 345.37,326.90 345.51,326.96 345.65,327.04 345.79,327.23 345.93,326.94 346.08,327.24 346.22,326.99 346.36,327.01 346.50,327.00 346.64,326.70 346.78,326.95 346.92,326.80 347.06,326.69 347.21,327.17 347.35,326.79 347.49,326.97 347.63,327.12 347.77,327.02 347.91,326.88 348.05,327.00 348.19,327.02 348.34,327.16 348.48,326.75 348.62,327.02 348.76,326.84 348.90,326.85 349.04,327.15 349.18,326.99 349.32,327.02 349.47,327.14 349.61,327.23 349.75,326.95 349.89,327.05 350.03,326.99 350.17,326.99 350.31,327.10 350.45,326.96 350.60,327.01 350.74,326.97 350.88,327.25 351.02,327.11 351.16,327.21 351.30,327.25 351.44,326.84 351.58,327.02 351.73,327.25 351.87,327.19 352.01,326.77 352.15,326.76 352.29,326.95 352.43,326.73 352.57,326.83 352.71,326.73 352.86,327.09 353.00,327.16 353.14,327.22 353.28,326.78 353.42,327.11 353.56,327.08 353.70,326.77 353.85,327.21 353.99,327.26 354.13,326.82 354.27,327.25 354.41,326.92 354.55,326.98 354.69,327.28 354.83,327.18 354.98,326.78 355.12,326.94 355.26,326.99 355.40,326.89 355.54,326.80 355.68,326.87 355.82,327.11 355.96,326.69 356.11,327.01 356.25,326.94 356.39,326.69 356.53,326.88 356.67,327.05 356.81,326.99 356.95,326.72 357.09,327.27 357.24,327.15 357.38,327.26 357.52,326.74 357.66,326.84 357.80,326.70 357.94,327.14 358.08,326.84 358.22,326.75 358.37,326.93 358.51,327.22 358.65,327.17 358.79,326.83 358.93,326.76 359.07,327.22 359.21,327.01 359.35,327.09 359.50,326.72 359.64,326.71 359.78,327.08 359.92,326.92 360.06,326.71 360.20,327.23 360.34,327.05 360.48,327.15 360.63,326.72 360.77,327.18 360.91,326.70 361.05,327.18 361.19,326.94 361.33,326.87 361.47,326.99 361.61,327.22 361.76,326.82 361.90,326.74 362.04,326.97 362.18,326.80 362.32,326.72 362.46,326.75 362.60,326.68 362.74,326.77 362.89,326.84 363.03,326.83 363.17,327.10 363.31,326.82 363.45,326.94 363.59,326.75 363.73,326.85 363.87,326.65 364.02,326.79 364.16,326.64 364.30,327.07 364.44,326.96 364.58,326.74 364.72,326.91 364.86,327.18 365.01,326.68 365.15,327.11 365.29,326.87 365.43,326.91 365.57,327.11 365.71,326.84 365.85,326.90 365.99,327.01 366.14,327.18 366.28,326.79 366.42,327.08 366.56,327.00 366.70,326.95 366.84,326.81 366.98,326.77 367.12,326.58 367.27,326.62 367.41,326.58 367.55,326.97 367.69,326.67 367.83,326.60 367.97,326.54 368.11,326.98 368.25,326.99 368.40,326.85 368.54,326.60 368.68,326.56 368.82,326.57 368.96,326.65 369.10,326.44 369.24,326.59 369.38,326.45 369.53,326.83 369.67,326.80 369.81,326.50 369.95,326.26 370.09,326.64 370.23,326.16 370.37,326.08 370.51,325.70 370.66,325.64 370.80,325.15 370.94,324.15 371.08,322.14 371.22,319.15 371.36,313.72 371.50,306.14 371.64,295.25 371.79,281.63 371.93,265.35 372.07,248.59 372.21,233.55 372.35,222.28 372.49,217.27 372.63,219.01 372.77,227.56 372.92,241.01 373.06,257.34 373.20,274.09 373.34,288.88 373.48,301.18 373.62,310.80 373.76,316.66 373.90,321.07 374.05,323.45 374.19,324.46 374.33,325.68 374.47,326.11 374.61,326.17 374.75,326.37 374.89,326.51 375.04,326.17 375.18,326.46 375.32,326.50 375.46,326.74 375.60,326.76 375.74,326.80 375.88,326.69 376.02,326.90 376.17,326.80 376.31,326.82 376.45,326.56 376.59,326.46 376.73,326.54 376.87,326.69 377.01,326.55 377.15,327.00 377.30,326.84 377.44,326.90 377.58,326.91 377.72,326.95 377.86,326.84 378.00,326.56 378.14,327.04 378.28,327.02 378.43,326.87 378.57,326.90 378.71,326.98 378.85,326.63 378.99,327.04 379.13,326.75 379.27,326.65 379.41,326.76 379.56,327.05 379.70,326.74 379.84,327.06 379.98,327.20 380.12,326.92 380.26,326.85 380.40,326.91 380.54,327.04 380.69,327.09 380.83,327.00 380.97,327.02 381.11,326.68 381.25,326.73 381.39,326.79 381.53,327.09 381.67,326.83 381.82,326.99 381.96,326.66 382.10,326.69 382.24,326.81 382.38,327.06 382.52,327.07 382.66,327.06 382.80,326.83 382.95,326.97 383.09,326.94 383.23,326.94 383.37,326.73 383.51,327.20 383.65,326.78 383.79,327.25 383.93,327.23 384.08,326.68 384.22,326.94 384.36,327.16 384.50,327.25 384.64,326.94 384.78,326.83 384.92,326.79 385.06,327.24 385.21,326.80 385.35,327.02 385.49,326.76 385.63,326.99 385.77,327.24 385.91,326.75 386.05,327.17 386.20,326.98 386.34,327.21 386.48,327.10 386.62,326.81 386.76,327.21 386.90,326.97 387.04,326.69 387.18,326.68 387.33,326.97 387.47,326.95 387.61,326.86 387.75,326.76 387.89,326.89 388.03,326.87 388.17,327.18 388.31,326.68 388.46,327.13 388.60,327.18 388.74,326.75 388.88,327.24 389.02,327.11 389.16,327.22 389.30,326.86 389.44,326.91 389.59,326.92 389.73,327.28 389.87,327.04 390.01,326.90 390.15,326.94 390.29,326.85 390.43,326.71 390.57,326.75 390.72,327.19 390.86,326.86 391.00,327.25 391.14,326.83 391.28,326.84 391.42,326.99 391.56,326.80 391.70,326.91 391.85,327.26 391.99,327.22 392.13,327.17 392.27,327.06 392.41,327.23 392.55,327.25 392.69,327.02 392.83,327.12 392.98,326.72 393.12,327.13 393.26,326.96 393.40,327.14 393.54,327.07 393.68,326.86 393.82,326.72 393.96,327.24 394.11,326.76 394.25,326.97 394.39,326.89 394.53,326.87 394.67,327.13 394.81,327.27 394.95,326.84 395.09,327.08 395.24,326.87 395.38,327.02 395.52,326.93 395.66,326.79 395.80,326.79 395.94,326.81 396.08,327.23 396.23,326.99 396.37,326.82 396.51,327.23 396.65,327.29 396.79,326.96 396.93,326.77 397.07,326.81 397.21,326.74 397.36,326.90 397.50,326.74 397.64,326.83 397.78,326.85 397.92,327.03 398.06,327.22 398.20,327.14 398.34,326.94 398.49,326.94 398.63,327.01 398.77,326.92 398.91,326.89 399.05,326.73 399.19,326.86 399.33,327.27 399.47,326.77 399.62,326.99 399.76,327.07 399.90,327.21 400.04,326.82 400.18,326.85 400.32,326.84 400.46,326.93 400.60,326.96 400.75,327.26 400.89,327.20 401.03,327.22 401.17,326.70 401.31,326.71 401.45,327.12 401.59,327.23 401.73,326.98 401.88,327.04 402.02,326.69 402.16,326.93 402.30,327.25 402.44,327.19 402.58,327.21 402.72,327.28 402.86,326.84 403.01,326.76 403.15,326.78 403.29,327.01 403.43,327.10 403.57,327.26 403.71,327.13 403.85,327.08 403.99,327.15 404.14,326.97 404.28,327.02 404.42,326.72 404.56,327.16 404.70,326.83 404.84,327.24 404.98,327.08 405.12,326.87 405.27,326.77 405.41,326.84 405.55,327.07 405.69,327.11 405.83,326.76 405.97,326.73 406.11,327.01 406.25,327.04 406.40,326.93 406.54,326.83 406.68,327.05 406.82,326.70 406.96,326.87 407.10,326.97 407.24,327.27 407.39,327.08 407.53,327.22 407.67,326.98 407.81,326.83 407.95,326.84 408.09,327.27 408.23,327.12 408.37,326.88 408.52,326.71 408.66,326.99 408.80,327.10 408.94,326.94 409.08,326.85 409.22,327.09 409.36,327.25 409.50,326.83 409.65,326.71 409.79,326.90 409.93,326.94 410.07,327.10 410.21,326.81 410.35,327.17 410.49,327.14 410.63,327.00 410.78,326.82 410.92,327.27 411.06,326.88 411.20,327.18 411.34,326.83 411.48,326.83 411.62,327.15 411.76,326.87 411.91,327.26 412.05,326.99 412.19,326.80 412.33,326.83 412.47,326.94 412.61,327.09 412.75,327.26 412.89,326.78 413.04,326.93 413.18,326.82 413.32,327.28 413.46,326.78 413.60,326.72 413.74,326.73 413.88,326.93 414.02,327.23 414.17,327.22 414.31,327.13 414.45,327.29 414.59,327.25 414.73,326.89 414.87,326.80 415.01,327.25 415.15,327.14 415.30,326.71 415.44,327.09 415.58,326.92 415.72,326.92 415.86,326.89 416.00,326.79 416.14,326.69 416.28,326.86 416.43,326.90 416.57,327.26 416.71,326.77 416.85,327.27 416.99,326.82 417.13,326.90 417.27,327.18 417.42,327.18 417.56,326.95 417.70,326.72 417.84,326.97 417.98,326.91 418.12,327.24 418.26,326.81 418.40,326.91 418.55,327.23 418.69,326.71 418.83,326.94 418.97,327.18 419.11,327.15 419.25,326.71 419.39,326.71 419.53,326.73 419.68,327.24 419.82,326.84 419.96,327.14 420.10,327.23 420.24,326.89 420.38,326.85 420.52,327.26 420.66,327.06 420.81,326.85 420.95,327.12 421.09,326.88 421.23,326.85 421.37,326.69 421.51,327.14 421.65,327.24 421.79,327.07 421.94,327.25 422.08,326.70 422.22,326.83 422.36,326.97 422.50,327.26 422.64,327.26 422.78,326.92 422.92,326.84 423.07,326.94 423.21,326.98 423.35,327.24 423.49,326.80 423.63,327.17 423.77,327.13 423.91,327.18 424.05,327.15 424.20,327.05 424.34,326.88 424.48,326.88 424.62,326.90 424.76,327.15 424.90,326.73 425.04,326.80 425.18,327.13 425.33,326.83 425.47,326.72 425.61,326.70 425.75,327.01 425.89,326.88 426.03,327.27 426.17,327.21 426.31,327.27 426.46,326.84 426.60,326.73 426.74,326.74 426.88,326.98 427.02,327.10 427.16,326.95 427.30,326.82 427.44,326.93 427.59,327.05 427.73,327.08 427.87,327.12 428.01,327.18 428.15,327.07 428.29,326.75 428.43,327.18 428.58,326.85 428.72,327.01 428.86,326.90 429.00,327.11 429.14,326.79 429.28,326.82 429.42,326.82 429.56,326.76 429.71,327.20 429.85,327.01 429.99,326.86 430.13,326.90 430.27,327.26 430.41,326.97 430.55,326.80 430.69,327.15 430.84,327.05 430.98,327.25 431.12,326.72 431.26,326.94 431.40,327.15 431.54,327.16 431.68,327.20 431.82,326.67 431.97,326.82 432.11,326.72 432.25,326.76 432.39,327.23 432.53,326.99 432.67,327.20 432.81,326.86 432.95,327.15 433.10,326.90 433.24,326.79 433.38,327.09 433.52,327.19 433.66,326.68 433.80,326.97 433.94,326.99 434.08,326.74 434.23,326.83 434.37,326.69 434.51,326.72 434.65,326.74 434.79,326.94 434.93,326.97 435.07,326.70 435.21,326.57 435.36,326.75 435.50,326.96 435.64,326.65 435.78,326.72 435.92,326.64 436.06,326.99 436.20,326.83 436.34,326.52 436.49,326.53 436.63,326.69 436.77,326.76 436.91,326.79 437.05,326.44 437.19,326.45 437.33,326.74 437.47,326.53 437.62,326.40 437.76,326.35 437.90,326.64 438.04,326.14 438.18,326.12 438.32,325.77 438.46,325.49 438.61,325.33 438.75,324.86 438.89,323.79 439.03,322.85 439.17,322.18 439.31,320.77 439.45,319.49 439.59,318.88 439.74,317.55 439.88,316.94 440.02,316.13 440.16,316.23 440.30,316.17 440.44,316.54 440.58,317.30 440.72,318.67 440.87,319.88 441.01,321.20 441.15,321.80 441.29,323.10 441.43,323.80 441.57,324.57 441.71,324.90 441.85,325.41 442.00,325.86 442.14,326.34 442.28,326.02 442.42,326.37 442.56,326.64 442.70,326.81 442.84,326.40 442.98,326.40 443.13,326.92 443.27,326.97 443.41,326.70 443.55,326.46 443.69,327.01 443.83,326.70 443.97,327.03 444.11,326.87 444.26,327.00 444.40,326.62 444.54,327.00 444.68,326.67 444.82,326.79 444.96,327.07 445.10,327.06 445.24,326.68 445.39,326.71 445.53,326.83 445.67,326.90 445.81,326.83 445.95,326.67 446.09,326.75 446.23,327.04 446.37,327.15 446.52,326.64 446.66,326.96 446.80,327.08 446.94,326.65 447.08,327.13 447.22,326.70 447.36,326.99 447.50,326.97 447.65,327.01 447.79,326.82 447.93,326.89 448.07,326.99 448.21,326.90 448.35,327.04 448.49,326.92 448.63,326.91 448.78,326.67 448.92,327.03 449.06,326.95 449.20,326.80 449.34,327.12 449.48,327.13 449.62,326.94 449.77,326.77 449.91,326.95 450.05,326.73 450.19,326.74 450.33,326.92 450.47,326.72 450.61,326.93 450.75,326.97 450.90,326.69 451.04,327.05 451.18,326.72 451.32,327.11 451.46,327.14 451.60,326.98 451.74,326.71 451.88,326.98 452.03,326.90 452.17,327.24 452.31,326.76 452.45,327.19 452.59,327.27 452.73,327.12 452.87,327.17 453.01,326.79 453.16,327.27 453.30,326.97 453.44,327.25 453.58,327.23 453.72,326.78 453.86,327.15 454.00,327.24 454.14,326.72 454.29,326.89 454.43,327.13 454.57,326.78 454.71,327.22 454.85,326.85 454.99,327.17 455.13,326.77 455.27,326.98 455.42,327.23 455.56,326.81 455.70,326.84 455.84,326.99 455.98,326.88 456.12,326.71 456.26,326.79 456.40,326.78 456.55,327.25 456.69,327.09 456.83,327.22 456.97,326.79 457.11,327.16 457.25,326.75 457.39,327.00 457.53,327.07 457.68,326.90 457.82,327.21 457.96,327.02 458.10,327.03 458.24,327.22 458.38,326.75 458.52,327.28 458.66,327.06 458.81,326.92 458.95,327.17 459.09,326.85 459.23,327.28 459.37,327.03 459.51,326.90 459.65,327.15 459.80,326.95 459.94,326.79 460.08,327.13 460.22,326.72 460.36,327.18 460.50,326.84 460.64,327.07 460.78,327.28 460.93,327.04 461.07,327.09 461.21,326.88 461.35,326.69 461.49,326.71 461.63,326.78 461.77,327.06 461.91,326.95 462.06,327.00 462.20,327.23 462.34,326.77 462.48,326.83 462.62,327.08 462.76,326.70 462.90,326.69 463.04,326.90 463.19,326.75 463.33,326.90 463.47,326.82 463.61,327.04 463.75,327.04 463.89,326.81 464.03,327.06 464.17,326.98 464.32,326.77 464.46,327.25 464.60,326.84 464.74,326.78 464.88,326.75 465.02,327.07 465.16,327.21 465.30,327.16 465.45,326.93 465.59,326.85 465.73,326.70 465.87,327.08 466.01,327.03 466.15,326.90 466.29,327.08 466.43,326.96 466.58,327.25 466.72,327.13 466.86,326.84 467.00,327.23 467.14,326.72 467.28,327.01 467.42,326.93 467.56,326.83 467.71,326.73 467.85,327.16 467.99,326.70 468.13,327.02 468.27,327.26 468.41,326.78 468.55,326.81 468.69,327.06 468.84,327.00 468.98,327.08 469.12,327.18 469.26,326.80 469.40,326.88 469.54,326.87 469.68,326.72 469.83,327.22 469.97,327.16 470.11,327.12 470.25,326.69 470.39,327.20 470.53,327.14 470.67,326.97 470.81,327.14 470.96,326.96 471.10,326.83 471.24,326.75 471.38,326.83 471.52,326.71 471.66,326.89 471.80,327.14 471.94,327.11 472.09,327.20 472.23,327.12 472.37,326.85 472.51,327.02 472.65,326.95 472.79,327.16 472.93,327.00 473.07,326.85 473.22,327.08 473.36,327.27 473.50,326.82 473.64,327.22 473.78,326.70 473.92,326.85 474.06,326.83 474.20,327.14 474.35,327.26 474.49,327.14 474.63,326.89 474.77,327.22 474.91,326.89 475.05,326.83 475.19,327.23 475.33,327.07 475.48,327.10 475.62,327.09 475.76,327.28 475.90,326.97 476.04,327.19 476.18,327.11 476.32,327.20 476.46,326.95 476.61,327.12 476.75,327.03 476.89,326.87 477.03,326.82 477.17,327.06 477.31,326.73 477.45,327.23 477.59,326.77 477.74,326.70 477.88,326.75 478.02,327.24 478.16,326.89 478.30,326.77 478.44,326.70 478.58,326.71 478.72,327.10 478.87,327.07 479.01,327.10 479.15,327.13 479.29,326.73 479.43,327.04 479.57,326.90 479.71,327.18 479.85,327.18 480.00,327.22 480.14,326.72 480.28,327.21 480.42,327.23 480.56,327.25 480.70,326.75 480.84,326.81 480.99,326.75 481.13,326.70 481.27,327.19 481.41,327.17 481.55,327.06 481.69,327.18 481.83,327.06 481.97,326.85 482.12,326.74 482.26,326.74 482.40,327.14 482.54,326.80 482.68,326.87 482.82,326.93 482.96,326.69 483.10,326.83 483.25,326.85 483.39,327.11 483.53,326.90 483.67,326.87 483.81,327.26 483.95,326.98 484.09,327.19 484.23,327.05 484.38,326.69 484.52,326.92 484.66,326.94 484.80,327.14 484.94,326.88 485.08,327.10 485.22,326.99 485.36,326.80 485.51,327.19 485.65,326.72 485.79,327.16 485.93,326.77 486.07,326.67 486.21,326.79 486.35,327.12 486.49,327.25 486.64,326.67 486.78,326.96 486.92,326.96 487.06,327.14 487.20,326.77 487.34,326.96 487.48,326.87 487.62,327.15 487.77,326.81 487.91,327.22 488.05,326.82 488.19,326.78 488.33,327.07 488.47,326.95 488.61,326.71 488.75,327.02 488.90,326.69 489.04,327.11 489.18,327.05 489.32,327.11 489.46,327.01 489.60,326.84 489.74,326.87 489.88,326.86 490.03,327.15 490.17,326.67 490.31,327.15 490.45,326.62 490.59,326.73 490.73,326.76 490.87,327.14 491.02,326.89 491.16,326.81 491.30,327.11 491.44,326.71 491.58,326.84 491.72,326.88 491.86,327.00 492.00,326.99 492.15,326.92 492.29,326.73 492.43,326.70 492.57,326.59 492.71,326.99 492.85,326.86 492.99,326.89 493.13,326.53 493.28,326.67 493.42,326.84 493.56,326.70 493.70,326.39 493.84,326.55 493.98,326.75 494.12,326.29 494.26,326.16 494.41,326.10 494.55,326.15 494.69,325.99 494.83,325.24 494.97,324.78 495.11,324.26 495.25,323.57 495.39,322.81 495.54,321.58 495.68,320.56 495.82,319.31 495.96,318.65 496.10,317.50 496.24,316.34 496.38,316.39 496.52,315.77 496.67,316.23 496.81,317.23 496.95,318.02 497.09,319.07 497.23,320.05 497.37,321.05 497.51,322.39 497.65,323.02 497.80,323.88 497.94,324.65 498.08,324.95 498.22,325.56 498.36,326.09 498.50,326.25 498.64,326.29 498.78,326.48 498.93,326.46 499.07,326.33 499.21,326.65 499.35,326.57 499.49,326.81 499.63,326.94 499.77,326.67 499.91,326.78 500.06,326.90 500.20,326.72 500.34,326.62 500.48,326.93 500.62,327.04 500.76,326.99 500.90,326.96 501.04,327.06 501.19,326.96 501.33,326.95 501.47,326.84 501.61,326.76 501.75,326.96 501.89,326.65 502.03,326.84 502.18,327.07 502.32,327.03 502.46,326.98 502.60,326.76 502.74,326.87 502.88,326.89 503.02,326.99 503.16,326.87 503.31,327.03 503.45,327.19 503.59,326.74 503.73,327.03 503.87,327.11 504.01,326.87 504.15,326.94 504.29,327.23 504.44,326.67 504.58,326.97 504.72,326.75 504.86,327.12 505.00,327.22 505.14,326.97 505.28,326.72 505.42,327.00 505.57,326.98 505.71,327.09 505.85,326.97 505.99,327.05 506.13,327.16 506.27,326.98 506.41,326.91 506.55,327.23 506.70,326.79 506.84,327.08 506.98,326.90 507.12,327.13 507.26,326.74 507.40,327.26 507.54,326.88 507.68,326.71 507.83,326.84 507.97,326.91 508.11,326.68 508.25,326.93 508.39,326.93 508.53,327.09 508.67,326.89 508.81,326.84 508.96,326.81 509.10,327.12 509.24,327.24 509.38,327.00 509.52,326.81 509.66,327.16 509.80,326.92 509.94,326.81 510.09,326.76 510.23,327.15 510.37,327.17 510.51,327.06 510.65,326.96 510.79,327.02 510.93,326.82 511.07,327.26 511.22,326.90 511.36,327.07 511.50,327.18 511.64,327.17 511.78,326.97 511.92,326.86 512.06,327.01 512.21,326.76 512.35,327.19 512.49,326.90 512.63,327.20 512.77,326.85 512.91,326.91 513.05,326.84 513.19,326.94 513.34,326.80 513.48,326.69 513.62,327.12 513.76,326.86 513.90,326.84 514.04,326.87 514.18,326.98 514.32,326.95 514.47,327.07 514.61,327.08 514.75,326.91 514.89,327.25 515.03,327.20 515.17,326.72 515.31,327.19 515.45,327.23 515.60,327.16 515.74,326.77 515.88,327.19 516.02,327.07 516.16,326.70 516.30,326.70 516.44,327.26 516.58,327.08 516.73,326.84 516.87,326.75 517.01,326.78 517.15,326.83 517.29,327.16 517.43,326.90 517.57,326.78 517.71,327.23 517.86,327.17 518.00,326.79 518.14,327.23 518.28,327.06 518.42,327.16 518.56,327.09 518.70,327.23 518.84,327.17 518.99,327.20 519.13,326.81 519.27,327.11 519.41,327.01 519.55,327.14 519.69,326.96 519.83,327.22 519.97,327.03 520.12,326.85 520.26,326.83 520.40,326.78 520.54,326.99 520.68,326.73 520.82,326.97 520.96,326.78 521.10,326.99 521.25,326.99 521.39,327.02 521.53,327.21 521.67,326.70 521.81,327.20 521.95,326.97 522.09,327.03 522.23,327.09 522.38,327.20 522.52,326.92 522.66,326.95" fill="none" stroke="#222" stroke-width="0.9"/><text transform="translate(369.65,227.65) rotate(-90)" font-family='"Liberation Serif", serif' font-size="9.00" letter-spacing="0.26" fill="#1a1a1a" stroke="#1a1a1a" stroke-width="0.3">B2(110)</text><text transform="translate(441.15,318.75) rotate(-90)" font-family='"Liberation Serif", serif' font-size="9.00" letter-spacing="0.22" fill="#1a1a1a" stroke="#1a1a1a" stroke-width="0.3">B2(200)</text><text transform="translate(497.15,318.25) rotate(-90)" font-family='"Liberation Serif", serif' font-size="9.00" letter-spacing="0.61" fill="#1a1a1a" stroke="#1a1a1a" stroke-width="0.3">B2(211)</text></svg></body></html>
